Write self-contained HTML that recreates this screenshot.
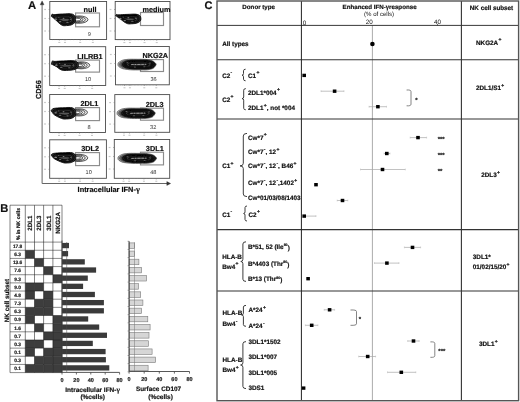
<!DOCTYPE html>
<html><head><meta charset="utf-8"><style>
html,body{margin:0;padding:0;background:#fff;}
svg{display:block;font-family:'Liberation Sans', Arial, sans-serif;text-rendering:geometricPrecision;}
text[font-weight="bold"]{stroke:#111;stroke-width:0.18px;}
</style></head><body>
<svg width="520" height="402" viewBox="0 0 520 402">
<defs><filter id="bl" x="-10%" y="-30%" width="120%" height="160%"><feGaussianBlur stdDeviation="0.35"/></filter></defs>
<rect width="520" height="402" fill="#fff"/>
<text x="28.00" y="8.70" font-size="11.3" font-weight="bold" text-anchor="start" fill="#111" >A</text>
<line x1="42.10" y1="183.50" x2="42.10" y2="3.50" stroke="#666" stroke-width="1.0" />
<path d="M40.2,4.8 L42.1,0.9 L44.0,4.8 Z" fill="#333" stroke="#333" stroke-width="0.4" />
<line x1="42.10" y1="183.50" x2="168.00" y2="183.50" stroke="#666" stroke-width="1.0" />
<path d="M166.8,181.6 L170.6,183.5 L166.8,185.4 Z" fill="#333" stroke="#333" stroke-width="0.4" />
<text x="0.00" y="0.00" font-size="7.3" font-weight="bold"  fill="#111" transform="translate(40.9,89.6) rotate(-90)" text-anchor="middle">CD56</text>
<text x="77.60" y="191.60" font-size="7.4" font-weight="bold" text-anchor="start" fill="#111" >Intracellular IFN-<tspan font-family="'Liberation Serif', serif" font-size="1.12em">&#947;</tspan></text>
<rect x="49.80" y="1.50" width="56.80" height="38.00" fill="white" stroke="#4a4a4a" stroke-width="0.9" />
<rect x="75.60" y="13.00" width="23.90" height="13.80" fill="none" stroke="#8c8c8c" stroke-width="1.15" />
<g filter="url(#bl)"><ellipse cx="78.80" cy="19.60" rx="9.20" ry="3.70" fill="#e6e6e6" stroke="#1a1a1a" stroke-width="0.7"/>
<ellipse cx="77.50" cy="19.60" rx="7.90" ry="2.96" fill="#f8f8f8" stroke="#1a1a1a" stroke-width="0.7"/>
<ellipse cx="76.30" cy="19.60" rx="6.70" ry="2.22" fill="#e0e0e0" stroke="#1a1a1a" stroke-width="0.7"/>
<ellipse cx="75.20" cy="19.60" rx="5.60" ry="1.48" fill="#fafafa" stroke="#1a1a1a" stroke-width="0.7"/>
<path d="M51.40,16.20 C51.35,15.53 51.79,14.32 52.37,14.00 C52.95,13.68 52.32,14.58 54.30,14.58 C56.29,14.58 58.61,14.07 62.29,14.00 C65.97,13.93 70.03,13.07 72.70,14.23 C75.36,15.39 75.60,17.80 75.60,19.80 C75.60,21.80 74.53,23.05 72.70,24.21 C70.86,25.37 68.64,25.44 66.42,25.60 C64.20,25.76 63.62,26.05 61.58,25.02 C59.54,23.99 58.03,21.97 56.24,20.43 C54.45,18.89 53.58,18.17 52.61,17.33 C51.64,16.48 51.45,16.87 51.40,16.20 Z" fill="#2e2e2e" stroke="#000" stroke-width="0.8"/>
<path d="M53.16,16.98 C53.12,16.45 53.49,15.48 53.99,15.22 C54.49,14.96 53.95,15.68 55.66,15.68 C57.37,15.68 59.36,15.28 62.53,15.22 C65.69,15.16 69.19,14.48 71.48,15.41 C73.77,16.33 73.97,18.26 73.97,19.86 C73.97,21.46 73.06,22.46 71.48,23.39 C69.90,24.31 67.99,24.37 66.08,24.50 C64.17,24.63 63.67,24.86 61.92,24.04 C60.17,23.21 58.87,21.59 57.32,20.36 C55.78,19.13 55.03,18.56 54.20,17.88 C53.37,17.21 53.20,17.51 53.16,16.98 Z" fill="#1c1c1c" stroke="#000" stroke-width="0.6"/>
<path d="M54.92,17.76 C54.89,17.36 55.20,16.63 55.62,16.44 C56.04,16.25 55.59,16.79 57.01,16.79 C58.44,16.79 60.12,16.48 62.76,16.44 C65.41,16.40 68.34,15.88 70.26,16.58 C72.17,17.28 72.35,18.72 72.35,19.92 C72.35,21.12 71.58,21.87 70.26,22.56 C68.93,23.26 67.34,23.30 65.74,23.40 C64.14,23.50 63.72,23.67 62.25,23.05 C60.79,22.43 59.70,21.22 58.41,20.30 C57.12,19.37 56.49,18.94 55.79,18.44 C55.10,17.93 54.96,18.16 54.92,17.76 Z" fill="#444" stroke="#000" stroke-width="0.6"/>
<path d="M56.51,18.46 C56.48,18.18 56.74,17.67 57.08,17.54 C57.43,17.40 57.06,17.78 58.23,17.78 C59.41,17.78 60.79,17.57 62.98,17.54 C65.16,17.51 67.58,17.15 69.16,17.64 C70.74,18.12 70.88,19.14 70.88,19.97 C70.88,20.81 70.25,21.34 69.16,21.83 C68.07,22.31 66.75,22.34 65.43,22.41 C64.11,22.48 63.77,22.60 62.56,22.17 C61.35,21.73 60.45,20.88 59.38,20.24 C58.32,19.59 57.80,19.29 57.23,18.94 C56.65,18.58 56.54,18.74 56.51,18.46 Z" fill="#161616" stroke="#000" stroke-width="0.6"/>
<path d="M58.09,19.16 C58.07,19.00 58.28,18.71 58.55,18.64 C58.82,18.56 58.53,18.78 59.45,18.78 C60.38,18.78 61.47,18.65 63.19,18.64 C64.91,18.62 66.82,18.41 68.06,18.69 C69.31,18.97 69.42,19.55 69.42,20.03 C69.42,20.51 68.92,20.81 68.06,21.09 C67.20,21.36 66.16,21.38 65.12,21.42 C64.08,21.46 63.81,21.53 62.86,21.28 C61.91,21.03 61.20,20.55 60.36,20.18 C59.52,19.81 59.11,19.64 58.66,19.43 C58.21,19.23 58.12,19.32 58.09,19.16 Z" fill="#555" stroke="#000" stroke-width="0.6"/>
<path d="M56.40,14.90 L71.60,14.90" fill="none" stroke="#000" stroke-width="1.0"/>
<ellipse cx="55.76" cy="19.22" rx="1.40" ry="0.60" fill="#8a8a8a"/>
<ellipse cx="60.11" cy="21.66" rx="1.26" ry="0.54" fill="#7a7a7a"/>
<ellipse cx="63.50" cy="18.18" rx="1.12" ry="0.48" fill="#9a9a9a"/>
<ellipse cx="67.37" cy="22.35" rx="1.26" ry="0.54" fill="#6a6a6a"/>
<ellipse cx="70.76" cy="19.22" rx="0.98" ry="0.42" fill="#8a8a8a"/>
<ellipse cx="58.66" cy="17.25" rx="0.84" ry="0.36" fill="#777"/></g>
<text x="96.50" y="12.30" font-size="7.3" font-weight="bold" text-anchor="end" fill="#111" >null</text>
<text x="89.30" y="35.60" font-size="5.6" font-weight="normal" text-anchor="middle" fill="#333" >9</text>
<line x1="48.60" y1="9.50" x2="49.80" y2="9.50" stroke="#777" stroke-width="0.6" />
<rect x="44.20" y="8.90" width="1.80" height="1.20" fill="#c8c8c8" stroke="none" stroke-width="1" />
<line x1="48.60" y1="18.50" x2="49.80" y2="18.50" stroke="#777" stroke-width="0.6" />
<rect x="44.20" y="17.90" width="1.80" height="1.20" fill="#c8c8c8" stroke="none" stroke-width="1" />
<line x1="48.60" y1="31.00" x2="49.80" y2="31.00" stroke="#777" stroke-width="0.6" />
<rect x="44.20" y="30.40" width="1.80" height="1.20" fill="#c8c8c8" stroke="none" stroke-width="1" />
<line x1="59.29" y1="39.50" x2="59.29" y2="40.70" stroke="#777" stroke-width="0.6" />
<rect x="58.29" y="41.90" width="2.00" height="1.10" fill="#c8c8c8" stroke="none" stroke-width="1" />
<line x1="65.02" y1="39.50" x2="65.02" y2="40.70" stroke="#777" stroke-width="0.6" />
<rect x="64.02" y="41.90" width="2.00" height="1.10" fill="#c8c8c8" stroke="none" stroke-width="1" />
<line x1="80.19" y1="39.50" x2="80.19" y2="40.70" stroke="#777" stroke-width="0.6" />
<rect x="79.19" y="41.90" width="2.00" height="1.10" fill="#c8c8c8" stroke="none" stroke-width="1" />
<line x1="92.85" y1="39.50" x2="92.85" y2="40.70" stroke="#777" stroke-width="0.6" />
<rect x="91.85" y="41.90" width="2.00" height="1.10" fill="#c8c8c8" stroke="none" stroke-width="1" />
<line x1="52.64" y1="39.50" x2="52.64" y2="40.20" stroke="#888" stroke-width="0.4" />
<line x1="54.91" y1="39.50" x2="54.91" y2="40.20" stroke="#888" stroke-width="0.4" />
<line x1="57.18" y1="39.50" x2="57.18" y2="40.20" stroke="#888" stroke-width="0.4" />
<line x1="61.16" y1="39.50" x2="61.16" y2="40.20" stroke="#888" stroke-width="0.4" />
<line x1="63.43" y1="39.50" x2="63.43" y2="40.20" stroke="#888" stroke-width="0.4" />
<line x1="66.84" y1="39.50" x2="66.84" y2="40.20" stroke="#888" stroke-width="0.4" />
<line x1="70.25" y1="39.50" x2="70.25" y2="40.20" stroke="#888" stroke-width="0.4" />
<line x1="73.66" y1="39.50" x2="73.66" y2="40.20" stroke="#888" stroke-width="0.4" />
<line x1="77.06" y1="39.50" x2="77.06" y2="40.20" stroke="#888" stroke-width="0.4" />
<line x1="82.74" y1="39.50" x2="82.74" y2="40.20" stroke="#888" stroke-width="0.4" />
<line x1="86.15" y1="39.50" x2="86.15" y2="40.20" stroke="#888" stroke-width="0.4" />
<line x1="89.56" y1="39.50" x2="89.56" y2="40.20" stroke="#888" stroke-width="0.4" />
<rect x="115.20" y="1.50" width="54.80" height="38.10" fill="white" stroke="#4a4a4a" stroke-width="0.9" />
<rect x="140.50" y="12.50" width="23.00" height="13.00" fill="none" stroke="#8c8c8c" stroke-width="1.15" />
<g filter="url(#bl)"><path d="M115.70,15.60 C115.65,15.16 116.10,14.55 116.71,14.40 C117.31,14.25 116.66,14.87 118.72,14.87 C120.79,14.87 123.21,14.46 127.04,14.40 C130.87,14.34 135.10,13.65 137.88,14.59 C140.65,15.53 140.90,17.48 140.90,19.10 C140.90,20.72 139.75,21.73 137.88,22.67 C136.00,23.61 133.80,23.67 131.52,23.80 C129.24,23.93 128.64,24.23 126.48,23.33 C124.32,22.43 122.64,20.64 120.74,19.29 C118.84,17.94 117.97,17.32 116.96,16.58 C115.95,15.85 115.75,16.04 115.70,15.60 Z" fill="#2e2e2e" stroke="#000" stroke-width="0.8"/>
<path d="M117.53,16.36 C117.49,16.01 117.88,15.52 118.40,15.40 C118.92,15.28 118.36,15.78 120.14,15.78 C121.91,15.78 123.99,15.45 127.29,15.40 C130.58,15.35 134.22,14.80 136.61,15.55 C138.99,16.30 139.21,17.87 139.21,19.16 C139.21,20.45 138.22,21.27 136.61,22.02 C134.99,22.77 133.10,22.81 131.14,22.92 C129.18,23.03 128.66,23.27 126.81,22.54 C124.95,21.82 123.51,20.39 121.87,19.31 C120.23,18.23 119.49,17.74 118.62,17.15 C117.75,16.56 117.58,16.71 117.53,16.36 Z" fill="#1c1c1c" stroke="#000" stroke-width="0.6"/>
<path d="M119.37,17.12 C119.33,16.86 119.66,16.49 120.09,16.40 C120.53,16.31 120.06,16.68 121.55,16.68 C123.03,16.68 124.78,16.43 127.53,16.40 C130.29,16.37 133.34,15.95 135.34,16.51 C137.33,17.08 137.51,18.25 137.51,19.22 C137.51,20.19 136.69,20.80 135.34,21.36 C133.99,21.93 132.40,21.96 130.76,22.04 C129.12,22.12 128.68,22.30 127.13,21.76 C125.58,21.22 124.37,20.14 123.00,19.33 C121.63,18.52 121.00,18.15 120.28,17.71 C119.55,17.27 119.41,17.38 119.37,17.12 Z" fill="#444" stroke="#000" stroke-width="0.6"/>
<path d="M121.02,17.80 C120.99,17.62 121.26,17.36 121.62,17.30 C121.98,17.24 121.59,17.50 122.82,17.50 C124.04,17.50 125.48,17.32 127.76,17.30 C130.03,17.28 132.55,16.98 134.19,17.38 C135.84,17.77 135.99,18.59 135.99,19.27 C135.99,19.95 135.31,20.38 134.19,20.77 C133.08,21.17 131.77,21.19 130.42,21.25 C129.06,21.30 128.70,21.43 127.42,21.05 C126.14,20.67 125.14,19.92 124.01,19.35 C122.88,18.79 122.37,18.53 121.77,18.22 C121.17,17.91 121.05,17.99 121.02,17.80 Z" fill="#161616" stroke="#000" stroke-width="0.6"/>
<path d="M122.67,18.49 C122.65,18.38 122.86,18.24 123.14,18.20 C123.43,18.16 123.12,18.31 124.09,18.31 C125.05,18.31 126.19,18.21 127.98,18.20 C129.77,18.19 131.75,18.02 133.05,18.25 C134.35,18.47 134.46,18.94 134.46,19.33 C134.46,19.72 133.93,19.96 133.05,20.19 C132.17,20.41 131.14,20.42 130.08,20.46 C129.01,20.49 128.73,20.56 127.72,20.34 C126.71,20.13 125.92,19.70 125.03,19.37 C124.14,19.05 123.73,18.90 123.26,18.72 C122.79,18.55 122.69,18.59 122.67,18.49 Z" fill="#555" stroke="#000" stroke-width="0.6"/>
<path d="M120.70,15.30 L136.90,15.30" fill="none" stroke="#000" stroke-width="1.0"/>
<ellipse cx="120.24" cy="18.63" rx="1.40" ry="0.60" fill="#8a8a8a"/>
<ellipse cx="124.77" cy="20.60" rx="1.26" ry="0.54" fill="#7a7a7a"/>
<ellipse cx="128.30" cy="17.78" rx="1.12" ry="0.48" fill="#9a9a9a"/>
<ellipse cx="132.33" cy="21.17" rx="1.26" ry="0.54" fill="#6a6a6a"/>
<ellipse cx="135.86" cy="18.63" rx="0.98" ry="0.42" fill="#8a8a8a"/>
<ellipse cx="123.26" cy="17.03" rx="0.84" ry="0.36" fill="#777"/></g>
<text x="170.50" y="12.20" font-size="7.3" font-weight="bold" text-anchor="end" fill="#111" >medium</text>
<line x1="114.00" y1="9.50" x2="115.20" y2="9.50" stroke="#777" stroke-width="0.6" />
<rect x="109.60" y="8.90" width="1.80" height="1.20" fill="#c8c8c8" stroke="none" stroke-width="1" />
<line x1="114.00" y1="18.50" x2="115.20" y2="18.50" stroke="#777" stroke-width="0.6" />
<rect x="109.60" y="17.90" width="1.80" height="1.20" fill="#c8c8c8" stroke="none" stroke-width="1" />
<line x1="114.00" y1="31.00" x2="115.20" y2="31.00" stroke="#777" stroke-width="0.6" />
<rect x="109.60" y="30.40" width="1.80" height="1.20" fill="#c8c8c8" stroke="none" stroke-width="1" />
<line x1="124.35" y1="39.60" x2="124.35" y2="40.80" stroke="#777" stroke-width="0.6" />
<rect x="123.35" y="42.00" width="2.00" height="1.10" fill="#c8c8c8" stroke="none" stroke-width="1" />
<line x1="129.89" y1="39.60" x2="129.89" y2="40.80" stroke="#777" stroke-width="0.6" />
<rect x="128.89" y="42.00" width="2.00" height="1.10" fill="#c8c8c8" stroke="none" stroke-width="1" />
<line x1="144.52" y1="39.60" x2="144.52" y2="40.80" stroke="#777" stroke-width="0.6" />
<rect x="143.52" y="42.00" width="2.00" height="1.10" fill="#c8c8c8" stroke="none" stroke-width="1" />
<line x1="156.74" y1="39.60" x2="156.74" y2="40.80" stroke="#777" stroke-width="0.6" />
<rect x="155.74" y="42.00" width="2.00" height="1.10" fill="#c8c8c8" stroke="none" stroke-width="1" />
<line x1="117.94" y1="39.60" x2="117.94" y2="40.30" stroke="#888" stroke-width="0.4" />
<line x1="120.13" y1="39.60" x2="120.13" y2="40.30" stroke="#888" stroke-width="0.4" />
<line x1="122.32" y1="39.60" x2="122.32" y2="40.30" stroke="#888" stroke-width="0.4" />
<line x1="126.16" y1="39.60" x2="126.16" y2="40.30" stroke="#888" stroke-width="0.4" />
<line x1="128.35" y1="39.60" x2="128.35" y2="40.30" stroke="#888" stroke-width="0.4" />
<line x1="131.64" y1="39.60" x2="131.64" y2="40.30" stroke="#888" stroke-width="0.4" />
<line x1="134.93" y1="39.60" x2="134.93" y2="40.30" stroke="#888" stroke-width="0.4" />
<line x1="138.22" y1="39.60" x2="138.22" y2="40.30" stroke="#888" stroke-width="0.4" />
<line x1="141.50" y1="39.60" x2="141.50" y2="40.30" stroke="#888" stroke-width="0.4" />
<line x1="146.98" y1="39.60" x2="146.98" y2="40.30" stroke="#888" stroke-width="0.4" />
<line x1="150.27" y1="39.60" x2="150.27" y2="40.30" stroke="#888" stroke-width="0.4" />
<line x1="153.56" y1="39.60" x2="153.56" y2="40.30" stroke="#888" stroke-width="0.4" />
<rect x="49.70" y="46.70" width="56.00" height="38.80" fill="white" stroke="#4a4a4a" stroke-width="0.9" />
<rect x="75.60" y="60.10" width="23.90" height="12.00" fill="none" stroke="#8c8c8c" stroke-width="1.15" />
<g filter="url(#bl)"><ellipse cx="81.15" cy="65.30" rx="8.65" ry="3.50" fill="#e6e6e6" stroke="#1a1a1a" stroke-width="0.7"/>
<ellipse cx="79.85" cy="65.30" rx="7.35" ry="2.80" fill="#f8f8f8" stroke="#1a1a1a" stroke-width="0.7"/>
<ellipse cx="78.65" cy="65.30" rx="6.15" ry="2.10" fill="#e0e0e0" stroke="#1a1a1a" stroke-width="0.7"/>
<ellipse cx="77.55" cy="65.30" rx="5.05" ry="1.40" fill="#fafafa" stroke="#1a1a1a" stroke-width="0.7"/>
<path d="M51.50,64.00 C51.45,63.23 51.93,61.42 52.58,60.90 C53.23,60.38 52.53,61.38 54.74,61.38 C56.95,61.38 59.55,60.96 63.65,60.90 C67.75,60.84 72.29,60.14 75.26,61.09 C78.23,62.04 78.50,64.02 78.50,65.65 C78.50,67.28 77.62,68.31 75.26,69.26 C72.90,70.21 69.49,70.27 66.70,70.40 C63.91,70.53 63.26,70.63 61.30,69.93 C59.34,69.22 58.59,67.91 56.90,66.88 C55.21,65.85 53.93,65.34 52.85,64.77 C51.77,64.19 51.55,64.77 51.50,64.00 Z" fill="#2e2e2e" stroke="#000" stroke-width="0.8"/>
<path d="M53.47,64.39 C53.42,63.77 53.84,62.33 54.39,61.91 C54.95,61.49 54.35,62.29 56.25,62.29 C58.16,62.29 60.39,61.96 63.91,61.91 C67.44,61.86 71.35,61.30 73.90,62.06 C76.45,62.82 76.69,64.40 76.69,65.71 C76.69,67.02 75.93,67.84 73.90,68.60 C71.87,69.36 68.94,69.40 66.54,69.51 C64.14,69.62 63.58,69.69 61.89,69.13 C60.21,68.57 59.56,67.52 58.11,66.69 C56.66,65.87 55.56,65.47 54.63,65.00 C53.70,64.54 53.51,65.01 53.47,64.39 Z" fill="#1c1c1c" stroke="#000" stroke-width="0.6"/>
<path d="M55.43,64.78 C55.39,64.32 55.74,63.23 56.21,62.92 C56.68,62.61 56.17,63.20 57.76,63.20 C59.36,63.20 61.22,62.95 64.18,62.92 C67.13,62.89 70.40,62.46 72.54,63.03 C74.68,63.60 74.87,64.79 74.87,65.77 C74.87,66.75 74.24,67.37 72.54,67.94 C70.84,68.51 68.39,68.54 66.38,68.62 C64.36,68.70 63.90,68.76 62.49,68.34 C61.08,67.91 60.54,67.13 59.32,66.51 C58.10,65.89 57.18,65.59 56.40,65.24 C55.63,64.90 55.47,65.24 55.43,64.78 Z" fill="#444" stroke="#000" stroke-width="0.6"/>
<path d="M57.20,65.13 C57.17,64.81 57.46,64.05 57.84,63.83 C58.23,63.61 57.81,64.03 59.12,64.03 C60.44,64.03 61.98,63.85 64.42,63.83 C66.86,63.81 69.55,63.51 71.31,63.91 C73.08,64.31 73.24,65.14 73.24,65.82 C73.24,66.51 72.72,66.94 71.31,67.34 C69.91,67.74 67.89,67.76 66.23,67.82 C64.57,67.87 64.19,67.92 63.02,67.62 C61.86,67.32 61.41,66.77 60.41,66.34 C59.40,65.91 58.64,65.70 58.00,65.45 C57.36,65.21 57.23,65.46 57.20,65.13 Z" fill="#161616" stroke="#000" stroke-width="0.6"/>
<path d="M58.97,65.48 C58.94,65.30 59.17,64.86 59.47,64.74 C59.78,64.61 59.45,64.85 60.49,64.85 C61.52,64.85 62.73,64.75 64.66,64.74 C66.58,64.72 68.70,64.56 70.09,64.78 C71.48,65.01 71.61,65.49 71.61,65.88 C71.61,66.27 71.19,66.52 70.09,66.74 C68.98,66.97 67.39,66.99 66.08,67.02 C64.78,67.05 64.47,67.07 63.56,66.90 C62.64,66.74 62.29,66.42 61.50,66.17 C60.71,65.93 60.11,65.80 59.60,65.67 C59.10,65.53 58.99,65.67 58.97,65.48 Z" fill="#555" stroke="#000" stroke-width="0.6"/>
<path d="M56.50,61.80 L74.50,61.80" fill="none" stroke="#000" stroke-width="1.0"/>
<ellipse cx="56.36" cy="65.17" rx="1.40" ry="0.60" fill="#8a8a8a"/>
<ellipse cx="61.22" cy="67.17" rx="1.26" ry="0.54" fill="#7a7a7a"/>
<ellipse cx="65.00" cy="64.32" rx="1.12" ry="0.48" fill="#9a9a9a"/>
<ellipse cx="69.32" cy="67.74" rx="1.26" ry="0.54" fill="#6a6a6a"/>
<ellipse cx="73.10" cy="65.17" rx="0.98" ry="0.42" fill="#8a8a8a"/>
<ellipse cx="59.60" cy="63.56" rx="0.84" ry="0.36" fill="#777"/></g>
<text x="102.70" y="58.70" font-size="7.3" font-weight="bold" text-anchor="end" fill="#111" >LILRB1</text>
<text x="88.10" y="80.80" font-size="5.6" font-weight="normal" text-anchor="middle" fill="#333" >10</text>
<line x1="48.50" y1="54.70" x2="49.70" y2="54.70" stroke="#777" stroke-width="0.6" />
<rect x="44.10" y="54.10" width="1.80" height="1.20" fill="#c8c8c8" stroke="none" stroke-width="1" />
<line x1="48.50" y1="63.70" x2="49.70" y2="63.70" stroke="#777" stroke-width="0.6" />
<rect x="44.10" y="63.10" width="1.80" height="1.20" fill="#c8c8c8" stroke="none" stroke-width="1" />
<line x1="48.50" y1="76.20" x2="49.70" y2="76.20" stroke="#777" stroke-width="0.6" />
<rect x="44.10" y="75.60" width="1.80" height="1.20" fill="#c8c8c8" stroke="none" stroke-width="1" />
<line x1="59.05" y1="85.50" x2="59.05" y2="86.70" stroke="#777" stroke-width="0.6" />
<rect x="58.05" y="87.90" width="2.00" height="1.10" fill="#c8c8c8" stroke="none" stroke-width="1" />
<line x1="64.71" y1="85.50" x2="64.71" y2="86.70" stroke="#777" stroke-width="0.6" />
<rect x="63.71" y="87.90" width="2.00" height="1.10" fill="#c8c8c8" stroke="none" stroke-width="1" />
<line x1="79.66" y1="85.50" x2="79.66" y2="86.70" stroke="#777" stroke-width="0.6" />
<rect x="78.66" y="87.90" width="2.00" height="1.10" fill="#c8c8c8" stroke="none" stroke-width="1" />
<line x1="92.15" y1="85.50" x2="92.15" y2="86.70" stroke="#777" stroke-width="0.6" />
<rect x="91.15" y="87.90" width="2.00" height="1.10" fill="#c8c8c8" stroke="none" stroke-width="1" />
<line x1="52.50" y1="85.50" x2="52.50" y2="86.20" stroke="#888" stroke-width="0.4" />
<line x1="54.74" y1="85.50" x2="54.74" y2="86.20" stroke="#888" stroke-width="0.4" />
<line x1="56.98" y1="85.50" x2="56.98" y2="86.20" stroke="#888" stroke-width="0.4" />
<line x1="60.90" y1="85.50" x2="60.90" y2="86.20" stroke="#888" stroke-width="0.4" />
<line x1="63.14" y1="85.50" x2="63.14" y2="86.20" stroke="#888" stroke-width="0.4" />
<line x1="66.50" y1="85.50" x2="66.50" y2="86.20" stroke="#888" stroke-width="0.4" />
<line x1="69.86" y1="85.50" x2="69.86" y2="86.20" stroke="#888" stroke-width="0.4" />
<line x1="73.22" y1="85.50" x2="73.22" y2="86.20" stroke="#888" stroke-width="0.4" />
<line x1="76.58" y1="85.50" x2="76.58" y2="86.20" stroke="#888" stroke-width="0.4" />
<line x1="82.18" y1="85.50" x2="82.18" y2="86.20" stroke="#888" stroke-width="0.4" />
<line x1="85.54" y1="85.50" x2="85.54" y2="86.20" stroke="#888" stroke-width="0.4" />
<line x1="88.90" y1="85.50" x2="88.90" y2="86.20" stroke="#888" stroke-width="0.4" />
<rect x="115.50" y="46.50" width="53.80" height="38.30" fill="white" stroke="#4a4a4a" stroke-width="0.9" />
<rect x="140.50" y="59.60" width="23.00" height="11.90" fill="none" stroke="#8c8c8c" stroke-width="1.15" />
<g filter="url(#bl)"><path d="M118.00,64.07 C118.09,62.59 118.70,62.27 120.63,61.21 C122.56,60.14 122.50,59.96 126.27,59.51 C130.04,59.07 131.71,59.25 136.80,59.30 C141.89,59.35 143.87,58.98 148.08,59.72 C152.29,60.47 153.18,60.97 154.85,62.48 C156.51,63.99 156.36,64.58 155.22,66.19 C154.08,67.80 153.82,68.50 149.96,69.37 C146.10,70.24 143.94,69.88 138.68,69.90 C133.42,69.92 131.70,70.02 127.40,69.48 C123.10,68.93 122.45,68.83 120.26,67.57 C118.06,66.31 117.91,65.55 118.00,64.07 Z" fill="#b8b8b8" stroke="#2a2a2a" stroke-width="0.6"/>
<path d="M119.60,64.15 C119.68,62.89 120.26,62.62 122.09,61.72 C123.92,60.82 123.86,60.66 127.43,60.28 C131.00,59.90 132.58,60.06 137.40,60.10 C142.22,60.14 144.09,59.83 148.08,60.46 C152.07,61.09 152.91,61.52 154.49,62.80 C156.07,64.08 155.92,64.58 154.84,65.95 C153.76,67.32 153.51,67.92 149.86,68.65 C146.21,69.39 144.16,69.08 139.18,69.10 C134.20,69.12 132.57,69.20 128.50,68.74 C124.43,68.28 123.81,68.19 121.74,67.12 C119.66,66.05 119.52,65.41 119.60,64.15 Z" fill="#7a7a7a" stroke="#222" stroke-width="0.5"/>
<path d="M121.00,64.20 C121.08,63.08 121.63,62.84 123.38,62.04 C125.13,61.24 125.07,61.10 128.48,60.76 C131.89,60.42 133.40,60.56 138.00,60.60 C142.60,60.64 144.39,60.36 148.20,60.92 C152.01,61.48 152.81,61.86 154.32,63.00 C155.83,64.14 155.69,64.59 154.66,65.80 C153.63,67.01 153.39,67.55 149.90,68.20 C146.41,68.85 144.46,68.58 139.70,68.60 C134.94,68.62 133.39,68.69 129.50,68.28 C125.61,67.87 125.02,67.79 123.04,66.84 C121.06,65.89 120.92,65.32 121.00,64.20 Z" fill="#555" stroke="#222" stroke-width="0.5"/>
<path d="M122.50,64.16 C122.58,62.93 123.10,62.67 124.76,61.78 C126.42,60.90 126.37,60.75 129.61,60.38 C132.85,60.01 134.28,60.16 138.65,60.20 C143.02,60.24 144.72,59.94 148.34,60.55 C151.96,61.17 152.72,61.59 154.15,62.84 C155.59,64.09 155.46,64.59 154.48,65.92 C153.50,67.25 153.27,67.84 149.95,68.56 C146.64,69.28 144.79,68.98 140.26,69.00 C135.74,69.02 134.27,69.10 130.57,68.65 C126.88,68.20 126.32,68.11 124.44,67.06 C122.55,66.02 122.42,65.39 122.50,64.16 Z" fill="#1a1a1a" stroke="#000" stroke-width="0.6"/>
<path d="M124.60,64.25 C124.67,63.26 125.12,63.05 126.57,62.35 C128.01,61.64 127.96,61.52 130.78,61.22 C133.60,60.93 134.85,61.05 138.65,61.08 C142.45,61.11 143.93,60.87 147.08,61.36 C150.23,61.85 150.89,62.19 152.14,63.19 C153.38,64.19 153.27,64.59 152.42,65.66 C151.57,66.72 151.37,67.19 148.49,67.77 C145.60,68.34 143.99,68.10 140.06,68.12 C136.12,68.14 134.84,68.20 131.62,67.84 C128.41,67.48 127.92,67.41 126.29,66.57 C124.65,65.73 124.53,65.23 124.60,64.25 Z" fill="#101010" stroke="#000" stroke-width="0.55"/>
<path d="M126.70,64.34 C126.75,63.60 127.15,63.44 128.37,62.91 C129.60,62.38 129.56,62.29 131.96,62.07 C134.36,61.84 135.42,61.94 138.65,61.96 C141.88,61.98 143.14,61.80 145.82,62.17 C148.50,62.54 149.06,62.79 150.12,63.54 C151.18,64.30 151.09,64.59 150.36,65.39 C149.64,66.19 149.47,66.54 147.02,66.98 C144.56,67.41 143.19,67.23 139.85,67.24 C136.50,67.25 135.41,67.30 132.67,67.03 C129.94,66.76 129.53,66.71 128.13,66.08 C126.74,65.45 126.64,65.08 126.70,64.34 Z" fill="#3a3a3a" stroke="#000" stroke-width="0.55"/>
<path d="M128.59,64.42 C128.64,63.90 128.96,63.79 130.00,63.42 C131.03,63.05 131.00,62.98 133.02,62.83 C135.03,62.67 135.93,62.73 138.65,62.75 C141.37,62.77 142.43,62.64 144.69,62.90 C146.94,63.16 147.42,63.33 148.31,63.86 C149.20,64.39 149.12,64.59 148.51,65.15 C147.90,65.71 147.76,65.96 145.69,66.26 C143.63,66.57 142.47,66.44 139.66,66.45 C136.84,66.46 135.92,66.49 133.62,66.30 C131.32,66.11 130.97,66.07 129.80,65.63 C128.62,65.20 128.54,64.93 128.59,64.42 Z" fill="#141414" stroke="#000" stroke-width="0.55"/>
<path d="M130.27,64.49 C130.31,64.17 130.58,64.10 131.44,63.87 C132.30,63.64 132.27,63.60 133.96,63.50 C135.64,63.41 136.38,63.45 138.65,63.46 C140.92,63.47 141.80,63.39 143.68,63.55 C145.56,63.71 145.95,63.82 146.70,64.14 C147.44,64.47 147.37,64.60 146.86,64.94 C146.36,65.29 146.24,65.44 144.52,65.63 C142.80,65.82 141.84,65.74 139.49,65.74 C137.14,65.75 136.38,65.77 134.46,65.65 C132.54,65.54 132.25,65.51 131.27,65.24 C130.30,64.97 130.23,64.81 130.27,64.49 Z" fill="#4a4a4a" stroke="#000" stroke-width="0.55"/>
<path d="M131.16,64.60 L146.20,64.30" stroke="#b8b8b8" stroke-width="0.7" stroke-dasharray="2.5 1 1.5 1.2 3 1" fill="none"/>
<ellipse cx="127.40" cy="62.74" rx="1.1" ry="0.5" fill="#666"/>
<ellipse cx="144.32" cy="66.72" rx="1.1" ry="0.5" fill="#5a5a5a"/>
<ellipse cx="149.96" cy="63.01" rx="1.1" ry="0.5" fill="#555"/>
<ellipse cx="134.92" cy="66.98" rx="1.1" ry="0.5" fill="#606060"/></g>
<text x="168.00" y="57.80" font-size="7.3" font-weight="bold" text-anchor="end" fill="#111" >NKG2A</text>
<text x="153.50" y="80.60" font-size="5.6" font-weight="normal" text-anchor="middle" fill="#333" >36</text>
<line x1="114.30" y1="54.50" x2="115.50" y2="54.50" stroke="#777" stroke-width="0.6" />
<rect x="109.90" y="53.90" width="1.80" height="1.20" fill="#c8c8c8" stroke="none" stroke-width="1" />
<line x1="114.30" y1="63.50" x2="115.50" y2="63.50" stroke="#777" stroke-width="0.6" />
<rect x="109.90" y="62.90" width="1.80" height="1.20" fill="#c8c8c8" stroke="none" stroke-width="1" />
<line x1="114.30" y1="76.00" x2="115.50" y2="76.00" stroke="#777" stroke-width="0.6" />
<rect x="109.90" y="75.40" width="1.80" height="1.20" fill="#c8c8c8" stroke="none" stroke-width="1" />
<line x1="124.48" y1="84.80" x2="124.48" y2="86.00" stroke="#777" stroke-width="0.6" />
<rect x="123.48" y="87.20" width="2.00" height="1.10" fill="#c8c8c8" stroke="none" stroke-width="1" />
<line x1="129.92" y1="84.80" x2="129.92" y2="86.00" stroke="#777" stroke-width="0.6" />
<rect x="128.92" y="87.20" width="2.00" height="1.10" fill="#c8c8c8" stroke="none" stroke-width="1" />
<line x1="144.28" y1="84.80" x2="144.28" y2="86.00" stroke="#777" stroke-width="0.6" />
<rect x="143.28" y="87.20" width="2.00" height="1.10" fill="#c8c8c8" stroke="none" stroke-width="1" />
<line x1="156.28" y1="84.80" x2="156.28" y2="86.00" stroke="#777" stroke-width="0.6" />
<rect x="155.28" y="87.20" width="2.00" height="1.10" fill="#c8c8c8" stroke="none" stroke-width="1" />
<line x1="118.19" y1="84.80" x2="118.19" y2="85.50" stroke="#888" stroke-width="0.4" />
<line x1="120.34" y1="84.80" x2="120.34" y2="85.50" stroke="#888" stroke-width="0.4" />
<line x1="122.49" y1="84.80" x2="122.49" y2="85.50" stroke="#888" stroke-width="0.4" />
<line x1="126.26" y1="84.80" x2="126.26" y2="85.50" stroke="#888" stroke-width="0.4" />
<line x1="128.41" y1="84.80" x2="128.41" y2="85.50" stroke="#888" stroke-width="0.4" />
<line x1="131.64" y1="84.80" x2="131.64" y2="85.50" stroke="#888" stroke-width="0.4" />
<line x1="134.87" y1="84.80" x2="134.87" y2="85.50" stroke="#888" stroke-width="0.4" />
<line x1="138.10" y1="84.80" x2="138.10" y2="85.50" stroke="#888" stroke-width="0.4" />
<line x1="141.32" y1="84.80" x2="141.32" y2="85.50" stroke="#888" stroke-width="0.4" />
<line x1="146.70" y1="84.80" x2="146.70" y2="85.50" stroke="#888" stroke-width="0.4" />
<line x1="149.93" y1="84.80" x2="149.93" y2="85.50" stroke="#888" stroke-width="0.4" />
<line x1="153.16" y1="84.80" x2="153.16" y2="85.50" stroke="#888" stroke-width="0.4" />
<rect x="49.70" y="94.50" width="55.80" height="38.00" fill="white" stroke="#4a4a4a" stroke-width="0.9" />
<rect x="75.60" y="107.60" width="23.90" height="13.00" fill="none" stroke="#8c8c8c" stroke-width="1.15" />
<g filter="url(#bl)"><ellipse cx="78.70" cy="112.40" rx="8.80" ry="3.60" fill="#e6e6e6" stroke="#1a1a1a" stroke-width="0.7"/>
<ellipse cx="77.40" cy="112.40" rx="7.50" ry="2.88" fill="#f8f8f8" stroke="#1a1a1a" stroke-width="0.7"/>
<ellipse cx="76.20" cy="112.40" rx="6.30" ry="2.16" fill="#e0e0e0" stroke="#1a1a1a" stroke-width="0.7"/>
<ellipse cx="75.10" cy="112.40" rx="5.20" ry="1.44" fill="#fafafa" stroke="#1a1a1a" stroke-width="0.7"/>
<path d="M51.20,110.60 C51.15,109.97 51.60,109.93 52.19,109.48 C52.78,109.03 52.14,108.70 54.16,108.36 C56.19,108.02 58.56,107.87 62.32,107.80 C66.07,107.73 70.22,106.90 72.94,108.02 C75.65,109.14 75.90,111.47 75.90,113.40 C75.90,115.33 74.82,116.54 72.94,117.66 C71.05,118.78 68.75,118.84 66.47,119.00 C64.19,119.16 63.89,119.23 61.53,118.44 C59.17,117.65 56.48,116.22 54.66,115.05 C52.84,113.89 53.13,113.51 52.44,112.62 C51.74,111.73 51.25,111.23 51.20,110.60 Z" fill="#2e2e2e" stroke="#000" stroke-width="0.8"/>
<path d="M53.00,111.22 C52.96,110.72 53.34,110.68 53.85,110.32 C54.36,109.97 53.81,109.70 55.55,109.43 C57.29,109.16 59.33,109.03 62.56,108.98 C65.79,108.93 69.35,108.26 71.69,109.16 C74.03,110.06 74.24,111.92 74.24,113.46 C74.24,115.00 73.31,115.97 71.69,116.86 C70.07,117.76 68.09,117.81 66.13,117.94 C64.17,118.07 63.91,118.12 61.88,117.49 C59.85,116.86 57.54,115.71 55.97,114.78 C54.41,113.85 54.66,113.55 54.06,112.83 C53.47,112.12 53.04,111.72 53.00,111.22 Z" fill="#1c1c1c" stroke="#000" stroke-width="0.6"/>
<path d="M54.80,111.84 C54.76,111.46 55.08,111.44 55.51,111.17 C55.93,110.90 55.47,110.70 56.93,110.50 C58.39,110.29 60.10,110.20 62.80,110.16 C65.50,110.12 68.49,109.62 70.45,110.29 C72.40,110.97 72.58,112.36 72.58,113.52 C72.58,114.68 71.80,115.40 70.45,116.07 C69.09,116.75 67.43,116.79 65.79,116.88 C64.15,116.97 63.93,117.02 62.23,116.54 C60.53,116.07 58.60,115.21 57.29,114.51 C55.98,113.81 56.18,113.58 55.69,113.05 C55.19,112.52 54.83,112.22 54.80,111.84 Z" fill="#444" stroke="#000" stroke-width="0.6"/>
<path d="M56.41,112.40 C56.39,112.13 56.65,112.12 57.00,111.93 C57.35,111.74 56.97,111.60 58.18,111.46 C59.38,111.32 60.79,111.25 63.02,111.22 C65.25,111.19 67.71,110.85 69.33,111.32 C70.94,111.79 71.09,112.76 71.09,113.57 C71.09,114.38 70.45,114.89 69.33,115.36 C68.21,115.83 66.84,115.86 65.49,115.93 C64.13,115.99 63.95,116.02 62.55,115.69 C61.15,115.36 59.55,114.76 58.47,114.27 C57.39,113.78 57.56,113.62 57.15,113.24 C56.74,112.87 56.44,112.66 56.41,112.40 Z" fill="#161616" stroke="#000" stroke-width="0.6"/>
<path d="M58.03,112.96 C58.01,112.81 58.22,112.79 58.50,112.69 C58.77,112.58 58.47,112.50 59.42,112.42 C60.37,112.34 61.48,112.30 63.23,112.28 C64.99,112.27 66.93,112.07 68.21,112.34 C69.48,112.61 69.59,113.17 69.59,113.63 C69.59,114.09 69.09,114.38 68.21,114.65 C67.32,114.92 66.25,114.93 65.18,114.97 C64.11,115.01 63.97,115.03 62.87,114.84 C61.76,114.65 60.50,114.30 59.65,114.02 C58.80,113.74 58.93,113.65 58.61,113.44 C58.29,113.23 58.06,113.11 58.03,112.96 Z" fill="#555" stroke="#000" stroke-width="0.6"/>
<path d="M56.20,108.70 L71.90,108.70" fill="none" stroke="#000" stroke-width="1.0"/>
<ellipse cx="55.65" cy="112.84" rx="1.40" ry="0.60" fill="#8a8a8a"/>
<ellipse cx="60.09" cy="115.19" rx="1.26" ry="0.54" fill="#7a7a7a"/>
<ellipse cx="63.55" cy="111.83" rx="1.12" ry="0.48" fill="#9a9a9a"/>
<ellipse cx="67.50" cy="115.86" rx="1.26" ry="0.54" fill="#6a6a6a"/>
<ellipse cx="70.96" cy="112.84" rx="0.98" ry="0.42" fill="#8a8a8a"/>
<ellipse cx="58.61" cy="110.94" rx="0.84" ry="0.36" fill="#777"/></g>
<text x="98.40" y="105.70" font-size="7.3" font-weight="bold" text-anchor="end" fill="#111" >2DL1</text>
<text x="89.00" y="128.60" font-size="5.6" font-weight="normal" text-anchor="middle" fill="#333" >8</text>
<line x1="48.50" y1="102.50" x2="49.70" y2="102.50" stroke="#777" stroke-width="0.6" />
<rect x="44.10" y="101.90" width="1.80" height="1.20" fill="#c8c8c8" stroke="none" stroke-width="1" />
<line x1="48.50" y1="111.50" x2="49.70" y2="111.50" stroke="#777" stroke-width="0.6" />
<rect x="44.10" y="110.90" width="1.80" height="1.20" fill="#c8c8c8" stroke="none" stroke-width="1" />
<line x1="48.50" y1="124.00" x2="49.70" y2="124.00" stroke="#777" stroke-width="0.6" />
<rect x="44.10" y="123.40" width="1.80" height="1.20" fill="#c8c8c8" stroke="none" stroke-width="1" />
<line x1="59.02" y1="132.50" x2="59.02" y2="133.70" stroke="#777" stroke-width="0.6" />
<rect x="58.02" y="134.90" width="2.00" height="1.10" fill="#c8c8c8" stroke="none" stroke-width="1" />
<line x1="64.65" y1="132.50" x2="64.65" y2="133.70" stroke="#777" stroke-width="0.6" />
<rect x="63.65" y="134.90" width="2.00" height="1.10" fill="#c8c8c8" stroke="none" stroke-width="1" />
<line x1="79.55" y1="132.50" x2="79.55" y2="133.70" stroke="#777" stroke-width="0.6" />
<rect x="78.55" y="134.90" width="2.00" height="1.10" fill="#c8c8c8" stroke="none" stroke-width="1" />
<line x1="92.00" y1="132.50" x2="92.00" y2="133.70" stroke="#777" stroke-width="0.6" />
<rect x="91.00" y="134.90" width="2.00" height="1.10" fill="#c8c8c8" stroke="none" stroke-width="1" />
<line x1="52.49" y1="132.50" x2="52.49" y2="133.20" stroke="#888" stroke-width="0.4" />
<line x1="54.72" y1="132.50" x2="54.72" y2="133.20" stroke="#888" stroke-width="0.4" />
<line x1="56.95" y1="132.50" x2="56.95" y2="133.20" stroke="#888" stroke-width="0.4" />
<line x1="60.86" y1="132.50" x2="60.86" y2="133.20" stroke="#888" stroke-width="0.4" />
<line x1="63.09" y1="132.50" x2="63.09" y2="133.20" stroke="#888" stroke-width="0.4" />
<line x1="66.44" y1="132.50" x2="66.44" y2="133.20" stroke="#888" stroke-width="0.4" />
<line x1="69.79" y1="132.50" x2="69.79" y2="133.20" stroke="#888" stroke-width="0.4" />
<line x1="73.14" y1="132.50" x2="73.14" y2="133.20" stroke="#888" stroke-width="0.4" />
<line x1="76.48" y1="132.50" x2="76.48" y2="133.20" stroke="#888" stroke-width="0.4" />
<line x1="82.06" y1="132.50" x2="82.06" y2="133.20" stroke="#888" stroke-width="0.4" />
<line x1="85.41" y1="132.50" x2="85.41" y2="133.20" stroke="#888" stroke-width="0.4" />
<line x1="88.76" y1="132.50" x2="88.76" y2="133.20" stroke="#888" stroke-width="0.4" />
<rect x="114.80" y="94.60" width="54.90" height="37.70" fill="white" stroke="#4a4a4a" stroke-width="0.9" />
<rect x="140.50" y="108.20" width="23.00" height="12.00" fill="none" stroke="#8c8c8c" stroke-width="1.15" />
<g filter="url(#bl)"><path d="M117.10,112.83 C117.19,111.39 117.80,111.09 119.73,110.05 C121.66,109.02 121.60,108.84 125.37,108.41 C129.14,107.97 130.81,108.15 135.90,108.20 C140.99,108.25 142.97,107.89 147.18,108.61 C151.39,109.33 152.28,109.82 153.95,111.29 C155.61,112.76 155.46,113.33 154.32,114.89 C153.18,116.46 152.92,117.14 149.06,117.98 C145.20,118.83 143.04,118.48 137.78,118.50 C132.52,118.52 130.80,118.62 126.50,118.09 C122.20,117.56 121.55,117.46 119.36,116.23 C117.16,115.01 117.01,114.28 117.10,112.83 Z" fill="#b8b8b8" stroke="#2a2a2a" stroke-width="0.6"/>
<path d="M118.70,112.91 C118.78,111.70 119.36,111.44 121.19,110.57 C123.02,109.69 122.96,109.54 126.53,109.17 C130.10,108.81 131.68,108.96 136.50,109.00 C141.32,109.04 143.19,108.74 147.18,109.35 C151.17,109.96 152.01,110.37 153.59,111.61 C155.17,112.85 155.02,113.34 153.94,114.66 C152.86,115.97 152.61,116.55 148.96,117.27 C145.31,117.98 143.26,117.68 138.28,117.70 C133.30,117.72 131.67,117.80 127.60,117.35 C123.53,116.91 122.91,116.82 120.84,115.79 C118.76,114.75 118.62,114.13 118.70,112.91 Z" fill="#7a7a7a" stroke="#222" stroke-width="0.5"/>
<path d="M120.10,112.96 C120.18,111.89 120.73,111.66 122.48,110.89 C124.23,110.11 124.17,109.98 127.58,109.65 C130.99,109.33 132.50,109.46 137.10,109.50 C141.70,109.54 143.49,109.27 147.30,109.81 C151.11,110.35 151.91,110.71 153.42,111.81 C154.93,112.91 154.79,113.34 153.76,114.50 C152.73,115.67 152.49,116.19 149.00,116.81 C145.51,117.44 143.56,117.18 138.80,117.20 C134.04,117.22 132.49,117.29 128.60,116.89 C124.71,116.50 124.12,116.42 122.14,115.51 C120.16,114.59 120.02,114.04 120.10,112.96 Z" fill="#555" stroke="#222" stroke-width="0.5"/>
<path d="M121.50,112.92 C121.58,111.73 122.10,111.48 123.77,110.63 C125.43,109.78 125.38,109.63 128.63,109.27 C131.88,108.91 133.32,109.06 137.70,109.10 C142.08,109.14 143.79,108.85 147.42,109.44 C151.05,110.04 151.82,110.44 153.25,111.65 C154.69,112.86 154.56,113.34 153.58,114.62 C152.59,115.91 152.37,116.48 149.04,117.17 C145.71,117.87 143.86,117.58 139.32,117.60 C134.78,117.62 133.30,117.70 129.60,117.26 C125.90,116.82 125.33,116.74 123.44,115.73 C121.55,114.72 121.42,114.11 121.50,112.92 Z" fill="#1a1a1a" stroke="#000" stroke-width="0.6"/>
<path d="M123.61,113.01 C123.67,112.06 124.13,111.86 125.58,111.17 C127.03,110.49 126.98,110.37 129.81,110.09 C132.64,109.80 133.89,109.92 137.70,109.95 C141.51,109.98 143.00,109.75 146.16,110.22 C149.31,110.70 149.98,111.02 151.23,111.99 C152.48,112.96 152.37,113.34 151.51,114.37 C150.66,115.40 150.46,115.85 147.57,116.41 C144.67,116.97 143.06,116.73 139.11,116.75 C135.16,116.77 133.88,116.83 130.65,116.48 C127.43,116.13 126.94,116.06 125.30,115.25 C123.65,114.44 123.54,113.96 123.61,113.01 Z" fill="#101010" stroke="#000" stroke-width="0.55"/>
<path d="M125.71,113.09 C125.77,112.38 126.16,112.23 127.39,111.72 C128.62,111.21 128.58,111.12 130.99,110.90 C133.39,110.69 134.46,110.78 137.70,110.80 C140.94,110.82 142.21,110.65 144.89,111.00 C147.58,111.36 148.15,111.60 149.21,112.33 C150.27,113.06 150.18,113.34 149.45,114.11 C148.72,114.89 148.55,115.23 146.09,115.64 C143.63,116.06 142.26,115.89 138.90,115.90 C135.54,115.91 134.45,115.96 131.71,115.70 C128.96,115.43 128.55,115.38 127.15,114.78 C125.75,114.17 125.66,113.81 125.71,113.09 Z" fill="#3a3a3a" stroke="#000" stroke-width="0.55"/>
<path d="M127.61,113.17 C127.65,112.67 127.98,112.57 129.02,112.21 C130.06,111.85 130.02,111.79 132.05,111.64 C134.07,111.49 134.97,111.55 137.70,111.56 C140.43,111.58 141.49,111.46 143.76,111.71 C146.02,111.96 146.49,112.13 147.39,112.64 C148.28,113.14 148.20,113.34 147.59,113.89 C146.98,114.43 146.84,114.66 144.76,114.96 C142.69,115.25 141.54,115.13 138.71,115.13 C135.88,115.14 134.96,115.18 132.65,114.99 C130.35,114.81 130.00,114.77 128.82,114.35 C127.64,113.92 127.56,113.67 127.61,113.17 Z" fill="#141414" stroke="#000" stroke-width="0.55"/>
<path d="M129.29,113.24 C129.33,112.93 129.61,112.86 130.47,112.64 C131.33,112.42 131.30,112.38 132.99,112.29 C134.68,112.20 135.42,112.23 137.70,112.24 C139.98,112.26 140.86,112.18 142.74,112.33 C144.63,112.49 145.03,112.59 145.77,112.91 C146.52,113.22 146.45,113.35 145.94,113.68 C145.43,114.02 145.31,114.16 143.59,114.34 C141.86,114.52 140.89,114.45 138.54,114.45 C136.19,114.46 135.42,114.48 133.50,114.37 C131.57,114.25 131.28,114.23 130.30,113.97 C129.32,113.71 129.25,113.55 129.29,113.24 Z" fill="#4a4a4a" stroke="#000" stroke-width="0.55"/>
<path d="M130.26,113.35 L145.30,113.05" stroke="#b8b8b8" stroke-width="0.7" stroke-dasharray="2.5 1 1.5 1.2 3 1" fill="none"/>
<ellipse cx="126.50" cy="111.55" rx="1.1" ry="0.5" fill="#666"/>
<ellipse cx="143.42" cy="115.41" rx="1.1" ry="0.5" fill="#5a5a5a"/>
<ellipse cx="149.06" cy="111.80" rx="1.1" ry="0.5" fill="#555"/>
<ellipse cx="134.02" cy="115.67" rx="1.1" ry="0.5" fill="#606060"/></g>
<text x="163.50" y="106.70" font-size="7.3" font-weight="bold" text-anchor="end" fill="#111" >2DL3</text>
<text x="153.20" y="128.70" font-size="5.6" font-weight="normal" text-anchor="middle" fill="#333" >32</text>
<line x1="113.60" y1="102.60" x2="114.80" y2="102.60" stroke="#777" stroke-width="0.6" />
<rect x="109.20" y="102.00" width="1.80" height="1.20" fill="#c8c8c8" stroke="none" stroke-width="1" />
<line x1="113.60" y1="111.60" x2="114.80" y2="111.60" stroke="#777" stroke-width="0.6" />
<rect x="109.20" y="111.00" width="1.80" height="1.20" fill="#c8c8c8" stroke="none" stroke-width="1" />
<line x1="113.60" y1="124.10" x2="114.80" y2="124.10" stroke="#777" stroke-width="0.6" />
<rect x="109.20" y="123.50" width="1.80" height="1.20" fill="#c8c8c8" stroke="none" stroke-width="1" />
<line x1="123.97" y1="132.30" x2="123.97" y2="133.50" stroke="#777" stroke-width="0.6" />
<rect x="122.97" y="134.70" width="2.00" height="1.10" fill="#c8c8c8" stroke="none" stroke-width="1" />
<line x1="129.51" y1="132.30" x2="129.51" y2="133.50" stroke="#777" stroke-width="0.6" />
<rect x="128.51" y="134.70" width="2.00" height="1.10" fill="#c8c8c8" stroke="none" stroke-width="1" />
<line x1="144.17" y1="132.30" x2="144.17" y2="133.50" stroke="#777" stroke-width="0.6" />
<rect x="143.17" y="134.70" width="2.00" height="1.10" fill="#c8c8c8" stroke="none" stroke-width="1" />
<line x1="156.41" y1="132.30" x2="156.41" y2="133.50" stroke="#777" stroke-width="0.6" />
<rect x="155.41" y="134.70" width="2.00" height="1.10" fill="#c8c8c8" stroke="none" stroke-width="1" />
<line x1="117.55" y1="132.30" x2="117.55" y2="133.00" stroke="#888" stroke-width="0.4" />
<line x1="119.74" y1="132.30" x2="119.74" y2="133.00" stroke="#888" stroke-width="0.4" />
<line x1="121.94" y1="132.30" x2="121.94" y2="133.00" stroke="#888" stroke-width="0.4" />
<line x1="125.78" y1="132.30" x2="125.78" y2="133.00" stroke="#888" stroke-width="0.4" />
<line x1="127.98" y1="132.30" x2="127.98" y2="133.00" stroke="#888" stroke-width="0.4" />
<line x1="131.27" y1="132.30" x2="131.27" y2="133.00" stroke="#888" stroke-width="0.4" />
<line x1="134.56" y1="132.30" x2="134.56" y2="133.00" stroke="#888" stroke-width="0.4" />
<line x1="137.86" y1="132.30" x2="137.86" y2="133.00" stroke="#888" stroke-width="0.4" />
<line x1="141.15" y1="132.30" x2="141.15" y2="133.00" stroke="#888" stroke-width="0.4" />
<line x1="146.64" y1="132.30" x2="146.64" y2="133.00" stroke="#888" stroke-width="0.4" />
<line x1="149.94" y1="132.30" x2="149.94" y2="133.00" stroke="#888" stroke-width="0.4" />
<line x1="153.23" y1="132.30" x2="153.23" y2="133.00" stroke="#888" stroke-width="0.4" />
<rect x="49.70" y="139.80" width="56.70" height="38.50" fill="white" stroke="#4a4a4a" stroke-width="0.9" />
<rect x="75.60" y="152.60" width="23.90" height="13.00" fill="none" stroke="#8c8c8c" stroke-width="1.15" />
<g filter="url(#bl)"><ellipse cx="78.85" cy="157.90" rx="8.95" ry="3.60" fill="#e6e6e6" stroke="#1a1a1a" stroke-width="0.7"/>
<ellipse cx="77.55" cy="157.90" rx="7.65" ry="2.88" fill="#f8f8f8" stroke="#1a1a1a" stroke-width="0.7"/>
<ellipse cx="76.35" cy="157.90" rx="6.45" ry="2.16" fill="#e0e0e0" stroke="#1a1a1a" stroke-width="0.7"/>
<ellipse cx="75.25" cy="157.90" rx="5.35" ry="1.44" fill="#fafafa" stroke="#1a1a1a" stroke-width="0.7"/>
<path d="M51.20,155.00 C51.15,154.47 51.60,154.41 52.19,154.08 C52.78,153.74 52.14,153.56 54.16,153.31 C56.19,153.06 58.56,152.86 62.32,152.80 C66.07,152.74 70.22,151.98 72.94,153.00 C75.65,154.02 75.90,156.15 75.90,157.90 C75.90,159.65 74.62,160.76 72.94,161.78 C71.25,162.80 69.55,162.86 67.47,163.00 C65.39,163.14 65.04,163.27 62.53,162.49 C60.02,161.71 56.92,160.26 54.91,159.11 C52.89,157.96 53.18,157.55 52.44,156.72 C51.69,155.90 51.25,155.53 51.20,155.00 Z" fill="#2e2e2e" stroke="#000" stroke-width="0.8"/>
<path d="M53.00,155.64 C52.96,155.22 53.34,155.17 53.85,154.90 C54.36,154.63 53.81,154.49 55.55,154.29 C57.29,154.08 59.33,153.93 62.56,153.88 C65.79,153.83 69.35,153.23 71.69,154.04 C74.03,154.86 74.24,156.56 74.24,157.96 C74.24,159.36 73.14,160.24 71.69,161.06 C70.24,161.88 68.78,161.93 66.99,162.04 C65.20,162.15 64.90,162.25 62.74,161.63 C60.58,161.01 57.92,159.85 56.18,158.93 C54.45,158.01 54.70,157.68 54.06,157.02 C53.42,156.36 53.04,156.06 53.00,155.64 Z" fill="#1c1c1c" stroke="#000" stroke-width="0.6"/>
<path d="M54.80,156.28 C54.76,155.96 55.08,155.93 55.51,155.73 C55.93,155.52 55.47,155.42 56.93,155.27 C58.39,155.11 60.10,155.00 62.80,154.96 C65.50,154.92 68.49,154.47 70.45,155.08 C72.40,155.69 72.58,156.97 72.58,158.02 C72.58,159.07 71.66,159.73 70.45,160.35 C69.23,160.96 68.01,160.99 66.51,161.08 C65.01,161.17 64.76,161.24 62.95,160.77 C61.14,160.31 58.92,159.44 57.46,158.75 C56.01,158.05 56.22,157.81 55.69,157.31 C55.15,156.82 54.83,156.60 54.80,156.28 Z" fill="#444" stroke="#000" stroke-width="0.6"/>
<path d="M56.41,156.86 C56.39,156.63 56.65,156.61 57.00,156.47 C57.35,156.33 56.97,156.25 58.18,156.15 C59.38,156.04 60.79,155.96 63.02,155.93 C65.25,155.91 67.71,155.59 69.33,156.02 C70.94,156.45 71.09,157.34 71.09,158.07 C71.09,158.81 70.33,159.27 69.33,159.70 C68.32,160.13 67.32,160.16 66.08,160.22 C64.84,160.28 64.64,160.33 63.14,160.00 C61.65,159.68 59.81,159.07 58.62,158.58 C57.42,158.10 57.59,157.93 57.15,157.58 C56.71,157.24 56.44,157.08 56.41,156.86 Z" fill="#161616" stroke="#000" stroke-width="0.6"/>
<path d="M58.03,157.43 C58.01,157.30 58.22,157.29 58.50,157.21 C58.77,157.13 58.47,157.09 59.42,157.03 C60.37,156.97 61.48,156.92 63.23,156.90 C64.99,156.89 66.93,156.71 68.21,156.95 C69.48,157.20 69.59,157.71 69.59,158.13 C69.59,158.55 68.99,158.81 68.21,159.06 C67.42,159.30 66.62,159.32 65.65,159.35 C64.67,159.39 64.51,159.42 63.34,159.23 C62.16,159.04 60.71,158.70 59.77,158.42 C58.82,158.14 58.96,158.04 58.61,157.85 C58.26,157.65 58.06,157.56 58.03,157.43 Z" fill="#555" stroke="#000" stroke-width="0.6"/>
<path d="M56.20,153.70 L71.90,153.70" fill="none" stroke="#000" stroke-width="1.0"/>
<ellipse cx="55.65" cy="157.39" rx="1.40" ry="0.60" fill="#8a8a8a"/>
<ellipse cx="60.09" cy="159.53" rx="1.26" ry="0.54" fill="#7a7a7a"/>
<ellipse cx="63.55" cy="156.47" rx="1.12" ry="0.48" fill="#9a9a9a"/>
<ellipse cx="67.50" cy="160.14" rx="1.26" ry="0.54" fill="#6a6a6a"/>
<ellipse cx="70.96" cy="157.39" rx="0.98" ry="0.42" fill="#8a8a8a"/>
<ellipse cx="58.61" cy="155.66" rx="0.84" ry="0.36" fill="#777"/></g>
<text x="99.00" y="151.10" font-size="7.3" font-weight="bold" text-anchor="end" fill="#111" >3DL2</text>
<text x="88.70" y="173.90" font-size="5.6" font-weight="normal" text-anchor="middle" fill="#333" >10</text>
<line x1="48.50" y1="147.80" x2="49.70" y2="147.80" stroke="#777" stroke-width="0.6" />
<rect x="44.10" y="147.20" width="1.80" height="1.20" fill="#c8c8c8" stroke="none" stroke-width="1" />
<line x1="48.50" y1="156.80" x2="49.70" y2="156.80" stroke="#777" stroke-width="0.6" />
<rect x="44.10" y="156.20" width="1.80" height="1.20" fill="#c8c8c8" stroke="none" stroke-width="1" />
<line x1="48.50" y1="169.30" x2="49.70" y2="169.30" stroke="#777" stroke-width="0.6" />
<rect x="44.10" y="168.70" width="1.80" height="1.20" fill="#c8c8c8" stroke="none" stroke-width="1" />
<line x1="59.17" y1="178.30" x2="59.17" y2="179.50" stroke="#777" stroke-width="0.6" />
<rect x="58.17" y="180.70" width="2.00" height="1.10" fill="#c8c8c8" stroke="none" stroke-width="1" />
<line x1="64.90" y1="178.30" x2="64.90" y2="179.50" stroke="#777" stroke-width="0.6" />
<rect x="63.90" y="180.70" width="2.00" height="1.10" fill="#c8c8c8" stroke="none" stroke-width="1" />
<line x1="80.03" y1="178.30" x2="80.03" y2="179.50" stroke="#777" stroke-width="0.6" />
<rect x="79.03" y="180.70" width="2.00" height="1.10" fill="#c8c8c8" stroke="none" stroke-width="1" />
<line x1="92.68" y1="178.30" x2="92.68" y2="179.50" stroke="#777" stroke-width="0.6" />
<rect x="91.68" y="180.70" width="2.00" height="1.10" fill="#c8c8c8" stroke="none" stroke-width="1" />
<line x1="52.54" y1="178.30" x2="52.54" y2="179.00" stroke="#888" stroke-width="0.4" />
<line x1="54.80" y1="178.30" x2="54.80" y2="179.00" stroke="#888" stroke-width="0.4" />
<line x1="57.07" y1="178.30" x2="57.07" y2="179.00" stroke="#888" stroke-width="0.4" />
<line x1="61.04" y1="178.30" x2="61.04" y2="179.00" stroke="#888" stroke-width="0.4" />
<line x1="63.31" y1="178.30" x2="63.31" y2="179.00" stroke="#888" stroke-width="0.4" />
<line x1="66.71" y1="178.30" x2="66.71" y2="179.00" stroke="#888" stroke-width="0.4" />
<line x1="70.11" y1="178.30" x2="70.11" y2="179.00" stroke="#888" stroke-width="0.4" />
<line x1="73.51" y1="178.30" x2="73.51" y2="179.00" stroke="#888" stroke-width="0.4" />
<line x1="76.92" y1="178.30" x2="76.92" y2="179.00" stroke="#888" stroke-width="0.4" />
<line x1="82.59" y1="178.30" x2="82.59" y2="179.00" stroke="#888" stroke-width="0.4" />
<line x1="85.99" y1="178.30" x2="85.99" y2="179.00" stroke="#888" stroke-width="0.4" />
<line x1="89.39" y1="178.30" x2="89.39" y2="179.00" stroke="#888" stroke-width="0.4" />
<rect x="114.30" y="139.50" width="55.40" height="38.80" fill="white" stroke="#4a4a4a" stroke-width="0.9" />
<rect x="140.50" y="152.20" width="23.00" height="12.70" fill="none" stroke="#8c8c8c" stroke-width="1.15" />
<g filter="url(#bl)"><path d="M118.00,157.90 C118.09,156.50 118.71,156.20 120.66,155.20 C122.61,154.20 122.55,154.02 126.36,153.60 C130.17,153.18 131.86,153.35 137.00,153.40 C142.14,153.45 144.14,153.10 148.40,153.80 C152.66,154.50 153.56,154.98 155.24,156.40 C156.92,157.82 156.77,158.38 155.62,159.90 C154.47,161.42 154.20,162.08 150.30,162.90 C146.40,163.72 144.22,163.38 138.90,163.40 C133.58,163.42 131.84,163.51 127.50,163.00 C123.16,162.49 122.50,162.39 120.28,161.20 C118.06,160.01 117.91,159.30 118.00,157.90 Z" fill="#b8b8b8" stroke="#2a2a2a" stroke-width="0.6"/>
<path d="M119.60,157.98 C119.68,156.80 120.27,156.55 122.12,155.71 C123.97,154.87 123.91,154.72 127.52,154.37 C131.13,154.02 132.73,154.16 137.60,154.20 C142.47,154.24 144.37,153.95 148.40,154.54 C152.43,155.12 153.28,155.52 154.88,156.72 C156.48,157.92 156.33,158.39 155.24,159.66 C154.15,160.93 153.90,161.49 150.20,162.18 C146.50,162.87 144.44,162.58 139.40,162.60 C134.36,162.62 132.72,162.70 128.60,162.26 C124.48,161.83 123.86,161.75 121.76,160.75 C119.66,159.75 119.52,159.16 119.60,157.98 Z" fill="#7a7a7a" stroke="#222" stroke-width="0.5"/>
<path d="M121.00,158.03 C121.08,156.99 121.64,156.77 123.41,156.03 C125.17,155.29 125.12,155.16 128.57,154.85 C132.02,154.54 133.54,154.67 138.20,154.70 C142.86,154.73 144.67,154.48 148.52,155.00 C152.37,155.51 153.19,155.87 154.71,156.92 C156.24,157.97 156.10,158.39 155.06,159.51 C154.01,160.63 153.77,161.13 150.24,161.73 C146.71,162.33 144.74,162.08 139.92,162.10 C135.10,162.12 133.53,162.18 129.60,161.80 C125.67,161.42 125.07,161.35 123.06,160.47 C121.06,159.59 120.92,159.07 121.00,158.03 Z" fill="#555" stroke="#222" stroke-width="0.5"/>
<path d="M122.50,157.99 C122.58,156.84 123.11,156.60 124.79,155.78 C126.47,154.95 126.41,154.81 129.69,154.46 C132.97,154.12 134.42,154.26 138.85,154.30 C143.28,154.34 145.00,154.05 148.66,154.63 C152.32,155.20 153.10,155.59 154.55,156.76 C156.00,157.93 155.86,158.39 154.87,159.63 C153.88,160.87 153.65,161.42 150.29,162.09 C146.94,162.76 145.06,162.48 140.48,162.50 C135.91,162.52 134.41,162.59 130.68,162.17 C126.94,161.75 126.37,161.67 124.46,160.70 C122.55,159.72 122.42,159.14 122.50,157.99 Z" fill="#1a1a1a" stroke="#000" stroke-width="0.6"/>
<path d="M124.63,158.07 C124.69,157.15 125.16,156.96 126.62,156.30 C128.08,155.64 128.03,155.53 130.88,155.25 C133.74,154.98 135.00,155.09 138.85,155.12 C142.70,155.15 144.20,154.92 147.38,155.38 C150.57,155.84 151.24,156.15 152.51,157.09 C153.77,158.02 153.65,158.39 152.79,159.38 C151.93,160.38 151.73,160.82 148.81,161.35 C145.89,161.89 144.26,161.66 140.27,161.68 C136.29,161.70 134.99,161.75 131.74,161.42 C128.49,161.08 127.99,161.02 126.33,160.24 C124.67,159.46 124.56,158.99 124.63,158.07 Z" fill="#101010" stroke="#000" stroke-width="0.55"/>
<path d="M126.75,158.15 C126.81,157.47 127.20,157.32 128.44,156.83 C129.69,156.33 129.65,156.25 132.07,156.04 C134.50,155.83 135.58,155.92 138.85,155.94 C142.12,155.96 143.40,155.79 146.11,156.14 C148.82,156.48 149.39,156.72 150.47,157.42 C151.54,158.12 151.44,158.39 150.71,159.14 C149.97,159.88 149.80,160.21 147.32,160.61 C144.83,161.02 143.45,160.85 140.06,160.86 C136.67,160.87 135.57,160.92 132.80,160.66 C130.03,160.41 129.61,160.36 128.20,159.78 C126.79,159.19 126.69,158.84 126.75,158.15 Z" fill="#3a3a3a" stroke="#000" stroke-width="0.55"/>
<path d="M128.66,158.23 C128.71,157.75 129.04,157.64 130.09,157.30 C131.14,156.95 131.10,156.89 133.15,156.75 C135.19,156.60 136.09,156.66 138.85,156.68 C141.61,156.69 142.68,156.57 144.96,156.82 C147.24,157.06 147.73,157.22 148.63,157.71 C149.53,158.20 149.45,158.39 148.83,158.92 C148.21,159.44 148.07,159.67 145.98,159.95 C143.89,160.23 142.72,160.11 139.87,160.12 C137.02,160.13 136.09,160.16 133.76,159.98 C131.43,159.81 131.07,159.77 129.89,159.36 C128.70,158.95 128.62,158.71 128.66,158.23 Z" fill="#141414" stroke="#000" stroke-width="0.55"/>
<path d="M130.36,158.29 C130.40,157.99 130.68,157.93 131.55,157.72 C132.42,157.50 132.40,157.47 134.10,157.38 C135.80,157.29 136.55,157.32 138.85,157.33 C141.15,157.34 142.04,157.27 143.94,157.42 C145.84,157.57 146.24,157.67 147.00,157.97 C147.75,158.28 147.68,158.40 147.17,158.72 C146.65,159.04 146.53,159.19 144.79,159.36 C143.05,159.53 142.07,159.46 139.70,159.47 C137.32,159.47 136.55,159.49 134.61,159.38 C132.67,159.27 132.37,159.25 131.38,159.00 C130.39,158.74 130.32,158.59 130.36,158.29 Z" fill="#4a4a4a" stroke="#000" stroke-width="0.55"/>
<path d="M131.30,158.40 L146.50,158.10" stroke="#b8b8b8" stroke-width="0.7" stroke-dasharray="2.5 1 1.5 1.2 3 1" fill="none"/>
<ellipse cx="127.50" cy="156.65" rx="1.1" ry="0.5" fill="#666"/>
<ellipse cx="144.60" cy="160.40" rx="1.1" ry="0.5" fill="#5a5a5a"/>
<ellipse cx="150.30" cy="156.90" rx="1.1" ry="0.5" fill="#555"/>
<ellipse cx="135.10" cy="160.65" rx="1.1" ry="0.5" fill="#606060"/></g>
<text x="163.70" y="151.10" font-size="7.3" font-weight="bold" text-anchor="end" fill="#111" >3DL1</text>
<text x="153.30" y="173.60" font-size="5.6" font-weight="normal" text-anchor="middle" fill="#333" >48</text>
<line x1="113.10" y1="147.50" x2="114.30" y2="147.50" stroke="#777" stroke-width="0.6" />
<rect x="108.70" y="146.90" width="1.80" height="1.20" fill="#c8c8c8" stroke="none" stroke-width="1" />
<line x1="113.10" y1="156.50" x2="114.30" y2="156.50" stroke="#777" stroke-width="0.6" />
<rect x="108.70" y="155.90" width="1.80" height="1.20" fill="#c8c8c8" stroke="none" stroke-width="1" />
<line x1="113.10" y1="169.00" x2="114.30" y2="169.00" stroke="#777" stroke-width="0.6" />
<rect x="108.70" y="168.40" width="1.80" height="1.20" fill="#c8c8c8" stroke="none" stroke-width="1" />
<line x1="123.55" y1="178.30" x2="123.55" y2="179.50" stroke="#777" stroke-width="0.6" />
<rect x="122.55" y="180.70" width="2.00" height="1.10" fill="#c8c8c8" stroke="none" stroke-width="1" />
<line x1="129.15" y1="178.30" x2="129.15" y2="179.50" stroke="#777" stroke-width="0.6" />
<rect x="128.15" y="180.70" width="2.00" height="1.10" fill="#c8c8c8" stroke="none" stroke-width="1" />
<line x1="143.94" y1="178.30" x2="143.94" y2="179.50" stroke="#777" stroke-width="0.6" />
<rect x="142.94" y="180.70" width="2.00" height="1.10" fill="#c8c8c8" stroke="none" stroke-width="1" />
<line x1="156.29" y1="178.30" x2="156.29" y2="179.50" stroke="#777" stroke-width="0.6" />
<rect x="155.29" y="180.70" width="2.00" height="1.10" fill="#c8c8c8" stroke="none" stroke-width="1" />
<line x1="117.07" y1="178.30" x2="117.07" y2="179.00" stroke="#888" stroke-width="0.4" />
<line x1="119.29" y1="178.30" x2="119.29" y2="179.00" stroke="#888" stroke-width="0.4" />
<line x1="121.50" y1="178.30" x2="121.50" y2="179.00" stroke="#888" stroke-width="0.4" />
<line x1="125.38" y1="178.30" x2="125.38" y2="179.00" stroke="#888" stroke-width="0.4" />
<line x1="127.60" y1="178.30" x2="127.60" y2="179.00" stroke="#888" stroke-width="0.4" />
<line x1="130.92" y1="178.30" x2="130.92" y2="179.00" stroke="#888" stroke-width="0.4" />
<line x1="134.24" y1="178.30" x2="134.24" y2="179.00" stroke="#888" stroke-width="0.4" />
<line x1="137.57" y1="178.30" x2="137.57" y2="179.00" stroke="#888" stroke-width="0.4" />
<line x1="140.89" y1="178.30" x2="140.89" y2="179.00" stroke="#888" stroke-width="0.4" />
<line x1="146.43" y1="178.30" x2="146.43" y2="179.00" stroke="#888" stroke-width="0.4" />
<line x1="149.76" y1="178.30" x2="149.76" y2="179.00" stroke="#888" stroke-width="0.4" />
<line x1="153.08" y1="178.30" x2="153.08" y2="179.00" stroke="#888" stroke-width="0.4" />
<text x="0.20" y="212.00" font-size="11.2" font-weight="bold" text-anchor="start" fill="#111" >B</text>
<rect x="25.30" y="250.26" width="9.20" height="8.16" fill="#3d3d3d" stroke="none" stroke-width="1" />
<rect x="34.50" y="258.41" width="9.10" height="8.16" fill="#3d3d3d" stroke="none" stroke-width="1" />
<rect x="43.60" y="266.57" width="9.30" height="8.16" fill="#3d3d3d" stroke="none" stroke-width="1" />
<rect x="52.90" y="274.72" width="9.10" height="8.16" fill="#3d3d3d" stroke="none" stroke-width="1" />
<rect x="25.30" y="282.88" width="9.20" height="8.16" fill="#3d3d3d" stroke="none" stroke-width="1" />
<rect x="34.50" y="282.88" width="9.10" height="8.16" fill="#3d3d3d" stroke="none" stroke-width="1" />
<rect x="25.30" y="291.04" width="9.20" height="8.16" fill="#3d3d3d" stroke="none" stroke-width="1" />
<rect x="43.60" y="291.04" width="9.30" height="8.16" fill="#3d3d3d" stroke="none" stroke-width="1" />
<rect x="34.50" y="299.19" width="9.10" height="8.16" fill="#3d3d3d" stroke="none" stroke-width="1" />
<rect x="43.60" y="299.19" width="9.30" height="8.16" fill="#3d3d3d" stroke="none" stroke-width="1" />
<rect x="25.30" y="307.35" width="9.20" height="8.16" fill="#3d3d3d" stroke="none" stroke-width="1" />
<rect x="34.50" y="307.35" width="9.10" height="8.16" fill="#3d3d3d" stroke="none" stroke-width="1" />
<rect x="43.60" y="307.35" width="9.30" height="8.16" fill="#3d3d3d" stroke="none" stroke-width="1" />
<rect x="25.30" y="315.50" width="9.20" height="8.16" fill="#3d3d3d" stroke="none" stroke-width="1" />
<rect x="52.90" y="315.50" width="9.10" height="8.16" fill="#3d3d3d" stroke="none" stroke-width="1" />
<rect x="34.50" y="323.66" width="9.10" height="8.16" fill="#3d3d3d" stroke="none" stroke-width="1" />
<rect x="52.90" y="323.66" width="9.10" height="8.16" fill="#3d3d3d" stroke="none" stroke-width="1" />
<rect x="43.60" y="331.82" width="9.30" height="8.16" fill="#3d3d3d" stroke="none" stroke-width="1" />
<rect x="52.90" y="331.82" width="9.10" height="8.16" fill="#3d3d3d" stroke="none" stroke-width="1" />
<rect x="25.30" y="339.97" width="9.20" height="8.16" fill="#3d3d3d" stroke="none" stroke-width="1" />
<rect x="34.50" y="339.97" width="9.10" height="8.16" fill="#3d3d3d" stroke="none" stroke-width="1" />
<rect x="52.90" y="339.97" width="9.10" height="8.16" fill="#3d3d3d" stroke="none" stroke-width="1" />
<rect x="25.30" y="348.13" width="9.20" height="8.16" fill="#3d3d3d" stroke="none" stroke-width="1" />
<rect x="43.60" y="348.13" width="9.30" height="8.16" fill="#3d3d3d" stroke="none" stroke-width="1" />
<rect x="52.90" y="348.13" width="9.10" height="8.16" fill="#3d3d3d" stroke="none" stroke-width="1" />
<rect x="34.50" y="356.28" width="9.10" height="8.16" fill="#3d3d3d" stroke="none" stroke-width="1" />
<rect x="43.60" y="356.28" width="9.30" height="8.16" fill="#3d3d3d" stroke="none" stroke-width="1" />
<rect x="52.90" y="356.28" width="9.10" height="8.16" fill="#3d3d3d" stroke="none" stroke-width="1" />
<rect x="25.30" y="364.44" width="9.20" height="8.16" fill="#3d3d3d" stroke="none" stroke-width="1" />
<rect x="34.50" y="364.44" width="9.10" height="8.16" fill="#3d3d3d" stroke="none" stroke-width="1" />
<rect x="43.60" y="364.44" width="9.30" height="8.16" fill="#3d3d3d" stroke="none" stroke-width="1" />
<rect x="52.90" y="364.44" width="9.10" height="8.16" fill="#3d3d3d" stroke="none" stroke-width="1" />
<line x1="10.00" y1="242.10" x2="62.00" y2="242.10" stroke="#1a1a1a" stroke-width="0.5" />
<line x1="10.00" y1="250.26" x2="62.00" y2="250.26" stroke="#1a1a1a" stroke-width="0.5" />
<line x1="10.00" y1="258.41" x2="62.00" y2="258.41" stroke="#1a1a1a" stroke-width="0.5" />
<line x1="10.00" y1="266.57" x2="62.00" y2="266.57" stroke="#1a1a1a" stroke-width="0.5" />
<line x1="10.00" y1="274.72" x2="62.00" y2="274.72" stroke="#1a1a1a" stroke-width="0.5" />
<line x1="10.00" y1="282.88" x2="62.00" y2="282.88" stroke="#1a1a1a" stroke-width="0.5" />
<line x1="10.00" y1="291.04" x2="62.00" y2="291.04" stroke="#1a1a1a" stroke-width="0.5" />
<line x1="10.00" y1="299.19" x2="62.00" y2="299.19" stroke="#1a1a1a" stroke-width="0.5" />
<line x1="10.00" y1="307.35" x2="62.00" y2="307.35" stroke="#1a1a1a" stroke-width="0.5" />
<line x1="10.00" y1="315.50" x2="62.00" y2="315.50" stroke="#1a1a1a" stroke-width="0.5" />
<line x1="10.00" y1="323.66" x2="62.00" y2="323.66" stroke="#1a1a1a" stroke-width="0.5" />
<line x1="10.00" y1="331.82" x2="62.00" y2="331.82" stroke="#1a1a1a" stroke-width="0.5" />
<line x1="10.00" y1="339.97" x2="62.00" y2="339.97" stroke="#1a1a1a" stroke-width="0.5" />
<line x1="10.00" y1="348.13" x2="62.00" y2="348.13" stroke="#1a1a1a" stroke-width="0.5" />
<line x1="10.00" y1="356.28" x2="62.00" y2="356.28" stroke="#1a1a1a" stroke-width="0.5" />
<line x1="10.00" y1="364.44" x2="62.00" y2="364.44" stroke="#1a1a1a" stroke-width="0.5" />
<line x1="10.00" y1="372.60" x2="62.00" y2="372.60" stroke="#1a1a1a" stroke-width="0.5" />
<line x1="10.00" y1="205.20" x2="62.00" y2="205.20" stroke="#333" stroke-width="0.6" />
<line x1="10.00" y1="205.20" x2="10.00" y2="372.60" stroke="#1a1a1a" stroke-width="0.55" />
<line x1="25.30" y1="205.20" x2="25.30" y2="372.60" stroke="#1a1a1a" stroke-width="0.55" />
<line x1="34.50" y1="205.20" x2="34.50" y2="372.60" stroke="#1a1a1a" stroke-width="0.55" />
<line x1="43.60" y1="205.20" x2="43.60" y2="372.60" stroke="#1a1a1a" stroke-width="0.55" />
<line x1="52.90" y1="205.20" x2="52.90" y2="372.60" stroke="#1a1a1a" stroke-width="0.55" />
<line x1="62.00" y1="205.20" x2="62.00" y2="372.60" stroke="#1a1a1a" stroke-width="0.55" />
<text x="17.60" y="248.00" font-size="4.8" font-weight="bold" text-anchor="middle" fill="#222" >17.8</text>
<text x="17.60" y="256.16" font-size="4.8" font-weight="bold" text-anchor="middle" fill="#222" >6.3</text>
<text x="17.60" y="264.31" font-size="4.8" font-weight="bold" text-anchor="middle" fill="#222" >13.6</text>
<text x="17.60" y="272.47" font-size="4.8" font-weight="bold" text-anchor="middle" fill="#222" >7.6</text>
<text x="17.60" y="280.62" font-size="4.8" font-weight="bold" text-anchor="middle" fill="#222" >9.3</text>
<text x="17.60" y="288.78" font-size="4.8" font-weight="bold" text-anchor="middle" fill="#222" >9.0</text>
<text x="17.60" y="296.94" font-size="4.8" font-weight="bold" text-anchor="middle" fill="#222" >4.8</text>
<text x="17.60" y="305.09" font-size="4.8" font-weight="bold" text-anchor="middle" fill="#222" >7.3</text>
<text x="17.60" y="313.25" font-size="4.8" font-weight="bold" text-anchor="middle" fill="#222" >6.3</text>
<text x="17.60" y="321.40" font-size="4.8" font-weight="bold" text-anchor="middle" fill="#222" >0.9</text>
<text x="17.60" y="329.56" font-size="4.8" font-weight="bold" text-anchor="middle" fill="#222" >1.6</text>
<text x="17.60" y="337.72" font-size="4.8" font-weight="bold" text-anchor="middle" fill="#222" >0.7</text>
<text x="17.60" y="345.87" font-size="4.8" font-weight="bold" text-anchor="middle" fill="#222" >0.3</text>
<text x="17.60" y="354.03" font-size="4.8" font-weight="bold" text-anchor="middle" fill="#222" >0.1</text>
<text x="17.60" y="362.18" font-size="4.8" font-weight="bold" text-anchor="middle" fill="#222" >0.3</text>
<text x="17.60" y="370.34" font-size="4.8" font-weight="bold" text-anchor="middle" fill="#222" >0.1</text>
<text transform="translate(19.60,224.00) rotate(-90)" font-size="5.1" font-weight="bold" text-anchor="middle" fill="#111">% in NK cells</text>
<text transform="translate(32.20,223.20) rotate(-90)" font-size="6.2" font-weight="bold" text-anchor="middle" fill="#111">2DL1</text>
<text transform="translate(41.35,223.20) rotate(-90)" font-size="6.2" font-weight="bold" text-anchor="middle" fill="#111">2DL3</text>
<text transform="translate(50.55,223.20) rotate(-90)" font-size="6.2" font-weight="bold" text-anchor="middle" fill="#111">3DL1</text>
<text transform="translate(59.75,222.80) rotate(-90)" font-size="6.2" font-weight="bold" text-anchor="middle" fill="#111">NKG2A</text>
<text transform="translate(9.00,300.50) rotate(-90)" font-size="6.3" font-weight="bold" text-anchor="middle" fill="#111">NK cell subset</text>
<rect x="62.00" y="242.90" width="7.00" height="5.30" fill="#3a3a3a" stroke="none" stroke-width="1" />
<rect x="62.00" y="251.06" width="6.10" height="5.30" fill="#3a3a3a" stroke="none" stroke-width="1" />
<rect x="62.00" y="259.21" width="22.80" height="5.30" fill="#3a3a3a" stroke="none" stroke-width="1" />
<rect x="62.00" y="267.37" width="34.10" height="5.30" fill="#3a3a3a" stroke="none" stroke-width="1" />
<rect x="62.00" y="275.52" width="25.80" height="5.30" fill="#3a3a3a" stroke="none" stroke-width="1" />
<rect x="62.00" y="283.68" width="21.10" height="5.30" fill="#3a3a3a" stroke="none" stroke-width="1" />
<rect x="62.00" y="291.84" width="32.90" height="5.30" fill="#3a3a3a" stroke="none" stroke-width="1" />
<rect x="62.00" y="299.99" width="41.90" height="5.30" fill="#3a3a3a" stroke="none" stroke-width="1" />
<rect x="62.00" y="308.15" width="41.90" height="5.30" fill="#3a3a3a" stroke="none" stroke-width="1" />
<rect x="62.00" y="316.30" width="26.20" height="5.30" fill="#3a3a3a" stroke="none" stroke-width="1" />
<rect x="62.00" y="324.46" width="37.20" height="5.30" fill="#3a3a3a" stroke="none" stroke-width="1" />
<rect x="62.00" y="332.62" width="45.00" height="5.30" fill="#3a3a3a" stroke="none" stroke-width="1" />
<rect x="62.00" y="340.77" width="30.80" height="5.30" fill="#3a3a3a" stroke="none" stroke-width="1" />
<rect x="62.00" y="348.93" width="43.60" height="5.30" fill="#3a3a3a" stroke="none" stroke-width="1" />
<rect x="62.00" y="357.08" width="43.90" height="5.30" fill="#3a3a3a" stroke="none" stroke-width="1" />
<rect x="62.00" y="365.24" width="47.30" height="5.30" fill="#3a3a3a" stroke="none" stroke-width="1" />
<line x1="66.70" y1="242.00" x2="66.70" y2="372.00" stroke="#4e4e4e" stroke-width="0.5" />
<line x1="62.00" y1="240.50" x2="62.00" y2="372.40" stroke="#444" stroke-width="0.9" />
<line x1="62.00" y1="372.40" x2="119.60" y2="372.40" stroke="#444" stroke-width="0.9" />
<line x1="62.00" y1="372.40" x2="62.00" y2="374.50" stroke="#444" stroke-width="0.8" />
<text x="62.00" y="381.90" font-size="5.5" font-weight="bold" text-anchor="middle" fill="#222" >0</text>
<line x1="76.40" y1="372.40" x2="76.40" y2="374.50" stroke="#444" stroke-width="0.8" />
<text x="76.40" y="381.90" font-size="5.5" font-weight="bold" text-anchor="middle" fill="#222" >20</text>
<line x1="90.80" y1="372.40" x2="90.80" y2="374.50" stroke="#444" stroke-width="0.8" />
<text x="90.80" y="381.90" font-size="5.5" font-weight="bold" text-anchor="middle" fill="#222" >40</text>
<line x1="105.20" y1="372.40" x2="105.20" y2="374.50" stroke="#444" stroke-width="0.8" />
<text x="105.20" y="381.90" font-size="5.5" font-weight="bold" text-anchor="middle" fill="#222" >60</text>
<line x1="119.60" y1="372.40" x2="119.60" y2="374.50" stroke="#444" stroke-width="0.8" />
<text x="119.60" y="381.90" font-size="5.5" font-weight="bold" text-anchor="middle" fill="#222" >80</text>
<text x="65.20" y="391.60" font-size="6.5" font-weight="bold" text-anchor="start" fill="#111" >Intracellular IFN-<tspan font-family="'Liberation Serif', serif" font-size="1.12em">&#947;</tspan></text>
<text x="92.70" y="399.40" font-size="6.5" font-weight="bold" text-anchor="middle" fill="#111" >(%cells)</text>
<rect x="129.10" y="242.90" width="5.50" height="5.50" fill="#d6d6d6" stroke="#7a7a7a" stroke-width="0.6" />
<rect x="129.10" y="251.06" width="5.30" height="5.50" fill="#d6d6d6" stroke="#7a7a7a" stroke-width="0.6" />
<rect x="129.10" y="259.21" width="9.80" height="5.50" fill="#d6d6d6" stroke="#7a7a7a" stroke-width="0.6" />
<rect x="129.10" y="267.37" width="12.50" height="5.50" fill="#d6d6d6" stroke="#7a7a7a" stroke-width="0.6" />
<rect x="129.10" y="275.52" width="17.50" height="5.50" fill="#d6d6d6" stroke="#7a7a7a" stroke-width="0.6" />
<rect x="129.10" y="283.68" width="9.40" height="5.50" fill="#d6d6d6" stroke="#7a7a7a" stroke-width="0.6" />
<rect x="129.10" y="291.84" width="11.60" height="5.50" fill="#d6d6d6" stroke="#7a7a7a" stroke-width="0.6" />
<rect x="129.10" y="299.99" width="13.80" height="5.50" fill="#d6d6d6" stroke="#7a7a7a" stroke-width="0.6" />
<rect x="129.10" y="308.15" width="12.50" height="5.50" fill="#d6d6d6" stroke="#7a7a7a" stroke-width="0.6" />
<rect x="129.10" y="316.30" width="18.70" height="5.50" fill="#d6d6d6" stroke="#7a7a7a" stroke-width="0.6" />
<rect x="129.10" y="324.46" width="21.00" height="5.50" fill="#d6d6d6" stroke="#7a7a7a" stroke-width="0.6" />
<rect x="129.10" y="332.62" width="19.90" height="5.50" fill="#d6d6d6" stroke="#7a7a7a" stroke-width="0.6" />
<rect x="129.10" y="340.77" width="19.30" height="5.50" fill="#d6d6d6" stroke="#7a7a7a" stroke-width="0.6" />
<rect x="129.10" y="348.93" width="23.00" height="5.50" fill="#d6d6d6" stroke="#7a7a7a" stroke-width="0.6" />
<rect x="129.10" y="357.08" width="26.50" height="5.50" fill="#d6d6d6" stroke="#7a7a7a" stroke-width="0.6" />
<rect x="129.10" y="365.24" width="19.00" height="5.50" fill="#d6d6d6" stroke="#7a7a7a" stroke-width="0.6" />
<line x1="134.50" y1="242.00" x2="134.50" y2="371.50" stroke="#777" stroke-width="0.5" />
<line x1="129.10" y1="241.30" x2="129.10" y2="371.50" stroke="#333" stroke-width="1.0" />
<line x1="129.10" y1="371.50" x2="189.50" y2="371.50" stroke="#444" stroke-width="0.9" />
<line x1="127.60" y1="241.30" x2="129.10" y2="241.30" stroke="#444" stroke-width="0.5" />
<line x1="127.60" y1="249.46" x2="129.10" y2="249.46" stroke="#444" stroke-width="0.5" />
<line x1="127.60" y1="257.61" x2="129.10" y2="257.61" stroke="#444" stroke-width="0.5" />
<line x1="127.60" y1="265.77" x2="129.10" y2="265.77" stroke="#444" stroke-width="0.5" />
<line x1="127.60" y1="273.92" x2="129.10" y2="273.92" stroke="#444" stroke-width="0.5" />
<line x1="127.60" y1="282.08" x2="129.10" y2="282.08" stroke="#444" stroke-width="0.5" />
<line x1="127.60" y1="290.24" x2="129.10" y2="290.24" stroke="#444" stroke-width="0.5" />
<line x1="127.60" y1="298.39" x2="129.10" y2="298.39" stroke="#444" stroke-width="0.5" />
<line x1="127.60" y1="306.55" x2="129.10" y2="306.55" stroke="#444" stroke-width="0.5" />
<line x1="127.60" y1="314.70" x2="129.10" y2="314.70" stroke="#444" stroke-width="0.5" />
<line x1="127.60" y1="322.86" x2="129.10" y2="322.86" stroke="#444" stroke-width="0.5" />
<line x1="127.60" y1="331.02" x2="129.10" y2="331.02" stroke="#444" stroke-width="0.5" />
<line x1="127.60" y1="339.17" x2="129.10" y2="339.17" stroke="#444" stroke-width="0.5" />
<line x1="127.60" y1="347.33" x2="129.10" y2="347.33" stroke="#444" stroke-width="0.5" />
<line x1="127.60" y1="355.48" x2="129.10" y2="355.48" stroke="#444" stroke-width="0.5" />
<line x1="127.60" y1="363.64" x2="129.10" y2="363.64" stroke="#444" stroke-width="0.5" />
<line x1="127.60" y1="371.80" x2="129.10" y2="371.80" stroke="#444" stroke-width="0.5" />
<line x1="129.10" y1="371.50" x2="129.10" y2="373.60" stroke="#444" stroke-width="0.8" />
<text x="129.10" y="380.90" font-size="5.5" font-weight="bold" text-anchor="middle" fill="#222" >0</text>
<line x1="144.20" y1="371.50" x2="144.20" y2="373.60" stroke="#444" stroke-width="0.8" />
<text x="144.20" y="380.90" font-size="5.5" font-weight="bold" text-anchor="middle" fill="#222" >20</text>
<line x1="159.30" y1="371.50" x2="159.30" y2="373.60" stroke="#444" stroke-width="0.8" />
<text x="159.30" y="380.90" font-size="5.5" font-weight="bold" text-anchor="middle" fill="#222" >40</text>
<line x1="174.40" y1="371.50" x2="174.40" y2="373.60" stroke="#444" stroke-width="0.8" />
<text x="174.40" y="380.90" font-size="5.5" font-weight="bold" text-anchor="middle" fill="#222" >60</text>
<line x1="189.50" y1="371.50" x2="189.50" y2="373.60" stroke="#444" stroke-width="0.8" />
<text x="189.50" y="380.90" font-size="5.5" font-weight="bold" text-anchor="middle" fill="#222" >80</text>
<text x="158.50" y="391.30" font-size="6.4" font-weight="bold" text-anchor="middle" fill="#111" >Surface CD107</text>
<text x="160.60" y="399.40" font-size="6.5" font-weight="bold" text-anchor="middle" fill="#111" >(%cells)</text>
<text x="204.60" y="8.60" font-size="11.0" font-weight="bold" text-anchor="start" fill="#111" >C</text>
<line x1="372.40" y1="25.40" x2="372.40" y2="400.70" stroke="#888" stroke-width="0.7" />
<line x1="217.00" y1="25.40" x2="518.60" y2="25.40" stroke="#222" stroke-width="0.9" />
<line x1="217.00" y1="59.80" x2="518.60" y2="59.80" stroke="#333" stroke-width="1.1" />
<line x1="217.00" y1="119.00" x2="518.60" y2="119.00" stroke="#333" stroke-width="1.1" />
<line x1="217.00" y1="229.60" x2="518.60" y2="229.60" stroke="#333" stroke-width="1.1" />
<line x1="217.00" y1="291.00" x2="518.60" y2="291.00" stroke="#333" stroke-width="1.1" />
<line x1="301.40" y1="1.00" x2="301.40" y2="400.70" stroke="#222" stroke-width="1.0" />
<line x1="461.40" y1="1.00" x2="461.40" y2="400.70" stroke="#333" stroke-width="1.1" />
<rect x="217.00" y="1.00" width="301.60" height="399.70" fill="none" stroke="#555" stroke-width="1.4" />
<text x="302.70" y="25.00" font-size="6.3" font-weight="normal" text-anchor="start" fill="#111" >0</text>
<text x="369.20" y="23.90" font-size="6.3" font-weight="normal" text-anchor="middle" fill="#111" >20</text>
<text x="437.50" y="23.90" font-size="6.3" font-weight="normal" text-anchor="middle" fill="#111" >40</text>
<line x1="437.50" y1="23.80" x2="437.50" y2="25.40" stroke="#222" stroke-width="0.6" />
<text x="258.70" y="8.60" font-size="6.2" font-weight="bold" text-anchor="middle" fill="#111" >Donor type</text>
<text x="342.50" y="9.20" font-size="6.2" font-weight="bold" text-anchor="start" fill="#111" >Enhanced IFN-<tspan font-family="'Liberation Serif', serif" font-size="1.12em">&#947;</tspan>response</text>
<text x="379.10" y="16.40" font-size="6.1" font-weight="normal" text-anchor="middle" fill="#111" >(% of cells)</text>
<text x="491.50" y="9.60" font-size="6.3" font-weight="bold" text-anchor="middle" fill="#111" >NK cell subset</text>
<text x="222.20" y="46.00" font-size="6.35" font-weight="bold" text-anchor="start" fill="#111" >All types</text>
<text x="222.20" y="77.80" font-size="6.35" font-weight="bold" fill="#111">C2<tspan dx="0.3" dy="-3.6" font-size="5.0">-</tspan></text>
<text x="222.20" y="101.60" font-size="6.35" font-weight="bold" fill="#111">C2<tspan dx="0.3" dy="-3.6" font-size="5.0">+</tspan></text>
<text x="248.00" y="77.80" font-size="6.35" font-weight="bold" fill="#111">C1<tspan dx="0.3" dy="-3.6" font-size="5.0">+</tspan></text>
<text x="248.00" y="94.80" font-size="6.35" font-weight="bold" fill="#111">2DL1*004<tspan dx="0.3" dy="-3.6" font-size="5.0">+</tspan></text>
<text x="248" y="110.2" font-size="6.35" font-weight="bold" fill="#111">2DL1<tspan dx="0.3" dy="-3.6" font-size="5.0">+</tspan><tspan dy="3.6">, not *004</tspan></text>
<text x="222.20" y="168.40" font-size="6.35" font-weight="bold" fill="#111">C1<tspan dx="0.3" dy="-3.6" font-size="5.0">+</tspan></text>
<text x="248.00" y="139.50" font-size="6.35" font-weight="bold" fill="#111">Cw*7<tspan dx="0.3" dy="-3.6" font-size="5.0">+</tspan></text>
<text x="248" y="154.2" font-size="6.35" font-weight="bold" fill="#111">Cw*7<tspan dx="0.3" dy="-3.6" font-size="5.0">-</tspan><tspan dy="3.6">, 12</tspan><tspan dx="0.3" dy="-3.6" font-size="5.0">+</tspan></text>
<text x="248" y="168.4" font-size="6.35" font-weight="bold" fill="#111">Cw*7<tspan dx="0.3" dy="-3.6" font-size="5.0">-</tspan><tspan dy="3.6">, 12</tspan><tspan dx="0.3" dy="-3.6" font-size="5.0">-</tspan><tspan dy="3.6">, B46</tspan><tspan dx="0.3" dy="-3.6" font-size="5.0">+</tspan></text>
<text x="248" y="185.4" font-size="6.35" font-weight="bold" fill="#111">Cw*7<tspan dx="0.3" dy="-3.6" font-size="5.0">-</tspan><tspan dy="3.6">, 12</tspan><tspan dx="0.3" dy="-3.6" font-size="5.0">-</tspan><tspan dy="3.6">,1402</tspan><tspan dx="0.3" dy="-3.6" font-size="5.0">+</tspan></text>
<text x="248.00" y="200.40" font-size="6.35" font-weight="bold" text-anchor="start" fill="#111" >Cw*01/03/08/1403</text>
<text x="222.20" y="216.80" font-size="6.35" font-weight="bold" fill="#111">C1<tspan dx="0.3" dy="-3.6" font-size="5.0">-</tspan></text>
<text x="248.50" y="216.80" font-size="6.35" font-weight="bold" fill="#111">C2<tspan dx="0.3" dy="-3.6" font-size="5.0">+</tspan></text>
<text x="222.20" y="259.20" font-size="6.35" font-weight="bold" text-anchor="start" fill="#111" >HLA-B</text>
<text x="222.20" y="268.60" font-size="6.35" font-weight="bold" fill="#111">Bw4<tspan dx="0.3" dy="-3.6" font-size="5.0">+</tspan></text>
<text x="248" y="249.2" font-size="6.35" font-weight="bold" fill="#111">B*51, 52 (Ile<tspan dy="-2.8" font-size="3.6">80</tspan><tspan dy="3.6">)</tspan></text>
<text x="248" y="266.0" font-size="6.35" font-weight="bold" fill="#111">B*4403 (Thr<tspan dy="-2.8" font-size="3.6">80</tspan><tspan dy="3.6">)</tspan></text>
<text x="248" y="281.3" font-size="6.35" font-weight="bold" fill="#111">B*13 (Thr<tspan dy="-2.8" font-size="3.6">80</tspan><tspan dy="3.6">)</tspan></text>
<text x="222.50" y="315.10" font-size="6.35" font-weight="bold" text-anchor="start" fill="#111" >HLA-B</text>
<text x="222.50" y="326.20" font-size="6.35" font-weight="bold" fill="#111">Bw4<tspan dx="0.3" dy="-3.6" font-size="5.0">-</tspan></text>
<text x="248.50" y="312.30" font-size="6.35" font-weight="bold" fill="#111">A*24<tspan dx="0.3" dy="-3.6" font-size="5.0">+</tspan></text>
<text x="248.50" y="328.20" font-size="6.35" font-weight="bold" fill="#111">A*24<tspan dx="0.3" dy="-3.6" font-size="5.0">-</tspan></text>
<text x="222.50" y="361.70" font-size="6.35" font-weight="bold" text-anchor="start" fill="#111" >HLA-B</text>
<text x="222.50" y="372.20" font-size="6.35" font-weight="bold" fill="#111">Bw4<tspan dx="0.3" dy="-3.6" font-size="5.0">+</tspan></text>
<text x="248.50" y="343.90" font-size="6.35" font-weight="bold" text-anchor="start" fill="#111" >3DL1*1502</text>
<text x="248.50" y="358.50" font-size="6.35" font-weight="bold" text-anchor="start" fill="#111" >3DL1*007</text>
<text x="248.50" y="374.60" font-size="6.35" font-weight="bold" text-anchor="start" fill="#111" >3DL1*005</text>
<text x="248.50" y="390.00" font-size="6.35" font-weight="bold" text-anchor="start" fill="#111" >3DS1</text>
<text x="476.00" y="44.60" font-size="6.35" font-weight="bold" fill="#111">NKG2A<tspan dx="0.3" dy="-3.6" font-size="5.0">+</tspan></text>
<text x="476.00" y="90.10" font-size="6.35" font-weight="bold" fill="#111">2DL1/S1<tspan dx="0.3" dy="-3.6" font-size="5.0">+</tspan></text>
<text x="481.20" y="177.20" font-size="6.35" font-weight="bold" fill="#111">2DL3<tspan dx="0.3" dy="-3.6" font-size="5.0">+</tspan></text>
<text x="472.80" y="258.80" font-size="6.35" font-weight="bold" text-anchor="start" fill="#111" >3DL1*</text>
<text x="472.80" y="269.20" font-size="6.35" font-weight="bold" fill="#111">01/02/15/20<tspan dx="0.3" dy="-3.6" font-size="5.0">+</tspan></text>
<text x="479.00" y="346.40" font-size="6.35" font-weight="bold" fill="#111">3DL1<tspan dx="0.3" dy="-3.6" font-size="5.0">+</tspan></text>
<path d="M245.60,69.20 Q243.50,69.20 243.50,70.80 L243.50,73.60 Q243.50,75.20 242.00,75.20 Q243.50,75.20 243.50,76.80 L243.50,79.20 Q243.50,80.80 245.60,80.80" fill="none" stroke="#333" stroke-width="0.95" />
<path d="M245.80,88.60 Q243.70,88.60 243.70,90.20 L243.70,97.00 Q243.70,98.60 242.00,98.60 Q243.70,98.60 243.70,100.20 L243.70,108.20 Q243.70,109.80 245.80,109.80" fill="none" stroke="#333" stroke-width="0.95" />
<path d="M247.00,133.40 Q243.30,133.40 243.30,136.00 L243.30,163.30 Q243.30,165.90 240.00,165.90 Q243.30,165.90 243.30,168.50 L243.30,194.00 Q243.30,196.60 247.00,196.60" fill="none" stroke="#333" stroke-width="0.95" />
<path d="M247.00,206.00 Q245.00,206.00 245.00,207.60 L245.00,211.90 Q245.00,213.50 243.60,213.50 Q245.00,213.50 245.00,215.10 L245.00,219.40 Q245.00,221.00 247.00,221.00" fill="none" stroke="#333" stroke-width="0.95" />
<path d="M246.00,241.80 Q242.90,241.80 242.90,244.00 L242.90,259.30 Q242.90,261.50 240.80,261.50 Q242.90,261.50 242.90,263.70 L242.90,279.20 Q242.90,281.40 246.00,281.40" fill="none" stroke="#333" stroke-width="0.95" />
<path d="M246.00,305.40 Q243.40,305.40 243.40,307.00 L243.40,313.40 Q243.40,315.00 241.60,315.00 Q243.40,315.00 243.40,316.60 L243.40,324.70 Q243.40,326.30 246.00,326.30" fill="none" stroke="#333" stroke-width="0.95" />
<path d="M246.00,341.60 Q242.90,341.60 242.90,343.80 L242.90,362.80 Q242.90,365.00 240.60,365.00 Q242.90,365.00 242.90,367.20 L242.90,386.40 Q242.90,388.60 246.00,388.60" fill="none" stroke="#333" stroke-width="0.95" />
<circle cx="372.4" cy="44.0" r="2.3" fill="#000"/>
<rect x="302.40" y="73.71" width="3.60" height="3.38" fill="#000" stroke="none" stroke-width="1" />
<line x1="321.00" y1="91.20" x2="344.00" y2="91.20" stroke="#a8a8a8" stroke-width="0.7" />
<line x1="321.00" y1="90.30" x2="321.00" y2="92.10" stroke="#b0b0b0" stroke-width="0.5" />
<line x1="344.00" y1="90.30" x2="344.00" y2="92.10" stroke="#b0b0b0" stroke-width="0.5" />
<rect x="332.80" y="89.51" width="3.60" height="3.38" fill="#000" stroke="none" stroke-width="1" />
<line x1="369.00" y1="106.70" x2="386.50" y2="106.70" stroke="#a8a8a8" stroke-width="0.7" />
<line x1="369.00" y1="105.80" x2="369.00" y2="107.60" stroke="#b0b0b0" stroke-width="0.5" />
<line x1="386.50" y1="105.80" x2="386.50" y2="107.60" stroke="#b0b0b0" stroke-width="0.5" />
<rect x="376.10" y="105.01" width="3.60" height="3.38" fill="#000" stroke="none" stroke-width="1" />
<line x1="410.20" y1="137.60" x2="426.60" y2="137.60" stroke="#a8a8a8" stroke-width="0.7" />
<line x1="410.20" y1="136.70" x2="410.20" y2="138.50" stroke="#b0b0b0" stroke-width="0.5" />
<line x1="426.60" y1="136.70" x2="426.60" y2="138.50" stroke="#b0b0b0" stroke-width="0.5" />
<rect x="416.20" y="135.91" width="3.60" height="3.38" fill="#000" stroke="none" stroke-width="1" />
<line x1="384.00" y1="153.50" x2="390.00" y2="153.50" stroke="#a8a8a8" stroke-width="0.7" />
<line x1="384.00" y1="152.60" x2="384.00" y2="154.40" stroke="#b0b0b0" stroke-width="0.5" />
<line x1="390.00" y1="152.60" x2="390.00" y2="154.40" stroke="#b0b0b0" stroke-width="0.5" />
<rect x="385.00" y="151.81" width="3.60" height="3.38" fill="#000" stroke="none" stroke-width="1" />
<line x1="360.50" y1="169.50" x2="405.30" y2="169.50" stroke="#a8a8a8" stroke-width="0.7" />
<line x1="360.50" y1="168.60" x2="360.50" y2="170.40" stroke="#b0b0b0" stroke-width="0.5" />
<line x1="405.30" y1="168.60" x2="405.30" y2="170.40" stroke="#b0b0b0" stroke-width="0.5" />
<rect x="380.70" y="167.81" width="3.60" height="3.38" fill="#000" stroke="none" stroke-width="1" />
<rect x="314.20" y="183.01" width="3.60" height="3.38" fill="#000" stroke="none" stroke-width="1" />
<line x1="337.20" y1="200.50" x2="347.80" y2="200.50" stroke="#a8a8a8" stroke-width="0.7" />
<line x1="337.20" y1="199.60" x2="337.20" y2="201.40" stroke="#b0b0b0" stroke-width="0.5" />
<line x1="347.80" y1="199.60" x2="347.80" y2="201.40" stroke="#b0b0b0" stroke-width="0.5" />
<rect x="340.70" y="198.81" width="3.60" height="3.38" fill="#000" stroke="none" stroke-width="1" />
<line x1="303.00" y1="216.10" x2="316.00" y2="216.10" stroke="#a8a8a8" stroke-width="0.7" />
<line x1="303.00" y1="215.20" x2="303.00" y2="217.00" stroke="#b0b0b0" stroke-width="0.5" />
<line x1="316.00" y1="215.20" x2="316.00" y2="217.00" stroke="#b0b0b0" stroke-width="0.5" />
<rect x="302.40" y="214.41" width="3.60" height="3.38" fill="#000" stroke="none" stroke-width="1" />
<line x1="404.40" y1="247.40" x2="420.60" y2="247.40" stroke="#a8a8a8" stroke-width="0.7" />
<line x1="404.40" y1="246.50" x2="404.40" y2="248.30" stroke="#b0b0b0" stroke-width="0.5" />
<line x1="420.60" y1="246.50" x2="420.60" y2="248.30" stroke="#b0b0b0" stroke-width="0.5" />
<rect x="410.70" y="245.71" width="3.60" height="3.38" fill="#000" stroke="none" stroke-width="1" />
<line x1="374.50" y1="263.10" x2="399.00" y2="263.10" stroke="#a8a8a8" stroke-width="0.7" />
<line x1="374.50" y1="262.20" x2="374.50" y2="264.00" stroke="#b0b0b0" stroke-width="0.5" />
<line x1="399.00" y1="262.20" x2="399.00" y2="264.00" stroke="#b0b0b0" stroke-width="0.5" />
<rect x="385.10" y="261.41" width="3.60" height="3.38" fill="#000" stroke="none" stroke-width="1" />
<rect x="306.30" y="277.01" width="3.60" height="3.38" fill="#000" stroke="none" stroke-width="1" />
<line x1="324.20" y1="309.80" x2="334.60" y2="309.80" stroke="#a8a8a8" stroke-width="0.7" />
<line x1="324.20" y1="308.90" x2="324.20" y2="310.70" stroke="#b0b0b0" stroke-width="0.5" />
<line x1="334.60" y1="308.90" x2="334.60" y2="310.70" stroke="#b0b0b0" stroke-width="0.5" />
<rect x="327.80" y="308.11" width="3.60" height="3.38" fill="#000" stroke="none" stroke-width="1" />
<line x1="305.40" y1="325.30" x2="317.90" y2="325.30" stroke="#a8a8a8" stroke-width="0.7" />
<line x1="305.40" y1="324.40" x2="305.40" y2="326.20" stroke="#b0b0b0" stroke-width="0.5" />
<line x1="317.90" y1="324.40" x2="317.90" y2="326.20" stroke="#b0b0b0" stroke-width="0.5" />
<rect x="309.90" y="323.61" width="3.60" height="3.38" fill="#000" stroke="none" stroke-width="1" />
<line x1="407.70" y1="341.00" x2="419.20" y2="341.00" stroke="#a8a8a8" stroke-width="0.7" />
<line x1="407.70" y1="340.10" x2="407.70" y2="341.90" stroke="#b0b0b0" stroke-width="0.5" />
<line x1="419.20" y1="340.10" x2="419.20" y2="341.90" stroke="#b0b0b0" stroke-width="0.5" />
<rect x="411.70" y="339.31" width="3.60" height="3.38" fill="#000" stroke="none" stroke-width="1" />
<line x1="358.70" y1="356.50" x2="375.60" y2="356.50" stroke="#a8a8a8" stroke-width="0.7" />
<line x1="358.70" y1="355.60" x2="358.70" y2="357.40" stroke="#b0b0b0" stroke-width="0.5" />
<line x1="375.60" y1="355.60" x2="375.60" y2="357.40" stroke="#b0b0b0" stroke-width="0.5" />
<rect x="365.90" y="354.81" width="3.60" height="3.38" fill="#000" stroke="none" stroke-width="1" />
<line x1="387.50" y1="372.30" x2="415.80" y2="372.30" stroke="#a8a8a8" stroke-width="0.7" />
<line x1="387.50" y1="371.40" x2="387.50" y2="373.20" stroke="#b0b0b0" stroke-width="0.5" />
<line x1="415.80" y1="371.40" x2="415.80" y2="373.20" stroke="#b0b0b0" stroke-width="0.5" />
<rect x="399.50" y="370.61" width="3.60" height="3.38" fill="#000" stroke="none" stroke-width="1" />
<rect x="301.80" y="386.41" width="3.60" height="3.38" fill="#000" stroke="none" stroke-width="1" />
<path d="M406.60,90.00 Q411.00,89.70 411.00,91.50 L411.00,104.30 Q411.00,106.10 406.60,105.80" fill="none" stroke="#666" stroke-width="0.8" />
<text x="415.30" y="102.40" font-size="6" font-weight="bold" text-anchor="start" fill="#111" >*</text>
<path d="M350.50,310.00 Q356.50,309.70 356.50,311.50 L356.50,323.80 Q356.50,325.60 350.50,325.30" fill="none" stroke="#666" stroke-width="0.8" />
<text x="358.70" y="321.10" font-size="6" font-weight="bold" text-anchor="start" fill="#111" >*</text>
<path d="M430.40,341.90 Q434.80,341.60 434.80,343.40 L434.80,355.80 Q434.80,357.60 430.40,357.30" fill="none" stroke="#666" stroke-width="0.8" />
<text x="438.30" y="353.40" font-size="6" font-weight="bold" text-anchor="start" fill="#111" >***</text>
<text x="437.70" y="141.20" font-size="6" font-weight="bold" text-anchor="start" fill="#111" >***</text>
<text x="437.70" y="156.80" font-size="6" font-weight="bold" text-anchor="start" fill="#111" >***</text>
<text x="437.70" y="173.30" font-size="6" font-weight="bold" text-anchor="start" fill="#111" >**</text>
</svg></body></html>
